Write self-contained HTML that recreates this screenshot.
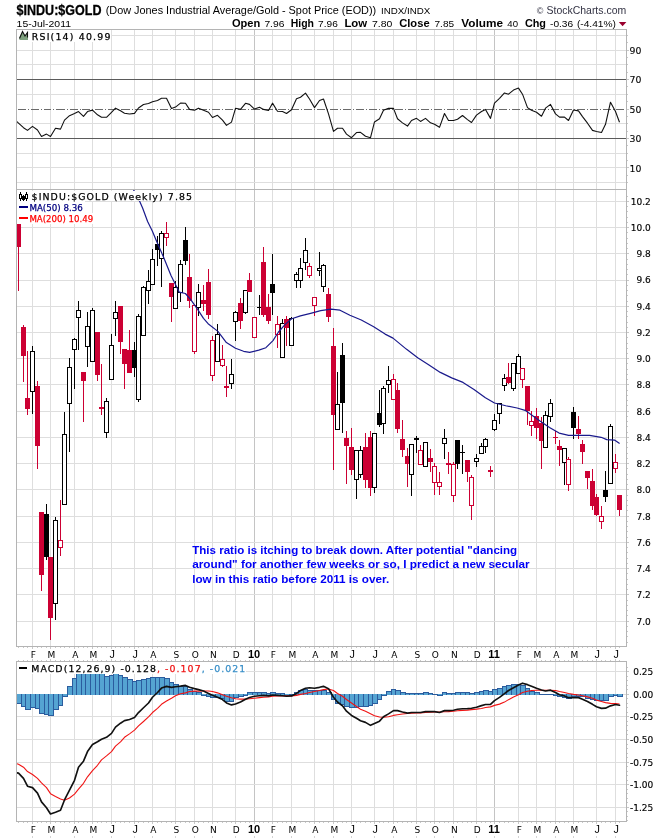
<!DOCTYPE html>
<html><head><meta charset="utf-8"><title>$INDU:$GOLD</title>
<style>html,body{margin:0;padding:0;background:#fff}svg{display:block}</style></head>
<body><svg width="670" height="838" viewBox="0 0 670 838">
<rect width="670" height="838" fill="#fff"/>
<g shape-rendering="crispEdges" fill="none">
<line x1="32.5" x2="32.5" y1="29.5" y2="189.5" stroke="#dedede"/>
<line x1="50.5" x2="50.5" y1="29.5" y2="189.5" stroke="#dedede"/>
<line x1="74.5" x2="74.5" y1="29.5" y2="189.5" stroke="#dedede"/>
<line x1="92.5" x2="92.5" y1="29.5" y2="189.5" stroke="#dedede"/>
<line x1="111.5" x2="111.5" y1="29.5" y2="189.5" stroke="#dedede"/>
<line x1="134.5" x2="134.5" y1="29.5" y2="189.5" stroke="#dedede"/>
<line x1="152.5" x2="152.5" y1="29.5" y2="189.5" stroke="#dedede"/>
<line x1="175.5" x2="175.5" y1="29.5" y2="189.5" stroke="#dedede"/>
<line x1="194.5" x2="194.5" y1="29.5" y2="189.5" stroke="#dedede"/>
<line x1="212.5" x2="212.5" y1="29.5" y2="189.5" stroke="#dedede"/>
<line x1="235.5" x2="235.5" y1="29.5" y2="189.5" stroke="#dedede"/>
<line x1="254.5" x2="254.5" y1="29.5" y2="189.5" stroke="#c4c4c4"/>
<line x1="272.5" x2="272.5" y1="29.5" y2="189.5" stroke="#dedede"/>
<line x1="291.5" x2="291.5" y1="29.5" y2="189.5" stroke="#dedede"/>
<line x1="314.5" x2="314.5" y1="29.5" y2="189.5" stroke="#dedede"/>
<line x1="333.5" x2="333.5" y1="29.5" y2="189.5" stroke="#dedede"/>
<line x1="351.5" x2="351.5" y1="29.5" y2="189.5" stroke="#dedede"/>
<line x1="374.5" x2="374.5" y1="29.5" y2="189.5" stroke="#dedede"/>
<line x1="393.5" x2="393.5" y1="29.5" y2="189.5" stroke="#dedede"/>
<line x1="416.5" x2="416.5" y1="29.5" y2="189.5" stroke="#dedede"/>
<line x1="434.5" x2="434.5" y1="29.5" y2="189.5" stroke="#dedede"/>
<line x1="453.5" x2="453.5" y1="29.5" y2="189.5" stroke="#dedede"/>
<line x1="476.5" x2="476.5" y1="29.5" y2="189.5" stroke="#dedede"/>
<line x1="494.5" x2="494.5" y1="29.5" y2="189.5" stroke="#c4c4c4"/>
<line x1="518.5" x2="518.5" y1="29.5" y2="189.5" stroke="#dedede"/>
<line x1="536.5" x2="536.5" y1="29.5" y2="189.5" stroke="#dedede"/>
<line x1="555.5" x2="555.5" y1="29.5" y2="189.5" stroke="#dedede"/>
<line x1="573.5" x2="573.5" y1="29.5" y2="189.5" stroke="#dedede"/>
<line x1="596.5" x2="596.5" y1="29.5" y2="189.5" stroke="#dedede"/>
<line x1="615.5" x2="615.5" y1="29.5" y2="189.5" stroke="#dedede"/>
<line x1="32.5" x2="32.5" y1="189.5" y2="646.5" stroke="#dedede"/>
<line x1="50.5" x2="50.5" y1="189.5" y2="646.5" stroke="#dedede"/>
<line x1="74.5" x2="74.5" y1="189.5" y2="646.5" stroke="#dedede"/>
<line x1="92.5" x2="92.5" y1="189.5" y2="646.5" stroke="#dedede"/>
<line x1="111.5" x2="111.5" y1="189.5" y2="646.5" stroke="#dedede"/>
<line x1="134.5" x2="134.5" y1="189.5" y2="646.5" stroke="#dedede"/>
<line x1="152.5" x2="152.5" y1="189.5" y2="646.5" stroke="#dedede"/>
<line x1="175.5" x2="175.5" y1="189.5" y2="646.5" stroke="#dedede"/>
<line x1="194.5" x2="194.5" y1="189.5" y2="646.5" stroke="#dedede"/>
<line x1="212.5" x2="212.5" y1="189.5" y2="646.5" stroke="#dedede"/>
<line x1="235.5" x2="235.5" y1="189.5" y2="646.5" stroke="#dedede"/>
<line x1="254.5" x2="254.5" y1="189.5" y2="646.5" stroke="#c4c4c4"/>
<line x1="272.5" x2="272.5" y1="189.5" y2="646.5" stroke="#dedede"/>
<line x1="291.5" x2="291.5" y1="189.5" y2="646.5" stroke="#dedede"/>
<line x1="314.5" x2="314.5" y1="189.5" y2="646.5" stroke="#dedede"/>
<line x1="333.5" x2="333.5" y1="189.5" y2="646.5" stroke="#dedede"/>
<line x1="351.5" x2="351.5" y1="189.5" y2="646.5" stroke="#dedede"/>
<line x1="374.5" x2="374.5" y1="189.5" y2="646.5" stroke="#dedede"/>
<line x1="393.5" x2="393.5" y1="189.5" y2="646.5" stroke="#dedede"/>
<line x1="416.5" x2="416.5" y1="189.5" y2="646.5" stroke="#dedede"/>
<line x1="434.5" x2="434.5" y1="189.5" y2="646.5" stroke="#dedede"/>
<line x1="453.5" x2="453.5" y1="189.5" y2="646.5" stroke="#dedede"/>
<line x1="476.5" x2="476.5" y1="189.5" y2="646.5" stroke="#dedede"/>
<line x1="494.5" x2="494.5" y1="189.5" y2="646.5" stroke="#c4c4c4"/>
<line x1="518.5" x2="518.5" y1="189.5" y2="646.5" stroke="#dedede"/>
<line x1="536.5" x2="536.5" y1="189.5" y2="646.5" stroke="#dedede"/>
<line x1="555.5" x2="555.5" y1="189.5" y2="646.5" stroke="#dedede"/>
<line x1="573.5" x2="573.5" y1="189.5" y2="646.5" stroke="#dedede"/>
<line x1="596.5" x2="596.5" y1="189.5" y2="646.5" stroke="#dedede"/>
<line x1="615.5" x2="615.5" y1="189.5" y2="646.5" stroke="#dedede"/>
<line x1="32.5" x2="32.5" y1="661.5" y2="821.5" stroke="#dedede"/>
<line x1="50.5" x2="50.5" y1="661.5" y2="821.5" stroke="#dedede"/>
<line x1="74.5" x2="74.5" y1="661.5" y2="821.5" stroke="#dedede"/>
<line x1="92.5" x2="92.5" y1="661.5" y2="821.5" stroke="#dedede"/>
<line x1="111.5" x2="111.5" y1="661.5" y2="821.5" stroke="#dedede"/>
<line x1="134.5" x2="134.5" y1="661.5" y2="821.5" stroke="#dedede"/>
<line x1="152.5" x2="152.5" y1="661.5" y2="821.5" stroke="#dedede"/>
<line x1="175.5" x2="175.5" y1="661.5" y2="821.5" stroke="#dedede"/>
<line x1="194.5" x2="194.5" y1="661.5" y2="821.5" stroke="#dedede"/>
<line x1="212.5" x2="212.5" y1="661.5" y2="821.5" stroke="#dedede"/>
<line x1="235.5" x2="235.5" y1="661.5" y2="821.5" stroke="#dedede"/>
<line x1="254.5" x2="254.5" y1="661.5" y2="821.5" stroke="#c4c4c4"/>
<line x1="272.5" x2="272.5" y1="661.5" y2="821.5" stroke="#dedede"/>
<line x1="291.5" x2="291.5" y1="661.5" y2="821.5" stroke="#dedede"/>
<line x1="314.5" x2="314.5" y1="661.5" y2="821.5" stroke="#dedede"/>
<line x1="333.5" x2="333.5" y1="661.5" y2="821.5" stroke="#dedede"/>
<line x1="351.5" x2="351.5" y1="661.5" y2="821.5" stroke="#dedede"/>
<line x1="374.5" x2="374.5" y1="661.5" y2="821.5" stroke="#dedede"/>
<line x1="393.5" x2="393.5" y1="661.5" y2="821.5" stroke="#dedede"/>
<line x1="416.5" x2="416.5" y1="661.5" y2="821.5" stroke="#dedede"/>
<line x1="434.5" x2="434.5" y1="661.5" y2="821.5" stroke="#dedede"/>
<line x1="453.5" x2="453.5" y1="661.5" y2="821.5" stroke="#dedede"/>
<line x1="476.5" x2="476.5" y1="661.5" y2="821.5" stroke="#dedede"/>
<line x1="494.5" x2="494.5" y1="661.5" y2="821.5" stroke="#c4c4c4"/>
<line x1="518.5" x2="518.5" y1="661.5" y2="821.5" stroke="#dedede"/>
<line x1="536.5" x2="536.5" y1="661.5" y2="821.5" stroke="#dedede"/>
<line x1="555.5" x2="555.5" y1="661.5" y2="821.5" stroke="#dedede"/>
<line x1="573.5" x2="573.5" y1="661.5" y2="821.5" stroke="#dedede"/>
<line x1="596.5" x2="596.5" y1="661.5" y2="821.5" stroke="#dedede"/>
<line x1="615.5" x2="615.5" y1="661.5" y2="821.5" stroke="#dedede"/>
<line x1="16.5" x2="626.5" y1="182.5" y2="182.5" stroke="#dedede"/>
<line x1="16.5" x2="626.5" y1="167.5" y2="167.5" stroke="#dedede"/>
<line x1="16.5" x2="626.5" y1="153.5" y2="153.5" stroke="#dedede"/>
<line x1="16.5" x2="626.5" y1="123.5" y2="123.5" stroke="#dedede"/>
<line x1="16.5" x2="626.5" y1="94.5" y2="94.5" stroke="#dedede"/>
<line x1="16.5" x2="626.5" y1="64.5" y2="64.5" stroke="#dedede"/>
<line x1="16.5" x2="626.5" y1="50.5" y2="50.5" stroke="#dedede"/>
<line x1="16.5" x2="626.5" y1="35.5" y2="35.5" stroke="#dedede"/>
<line x1="16.5" x2="626.5" y1="621.5" y2="621.5" stroke="#dedede"/>
<line x1="16.5" x2="626.5" y1="594.5" y2="594.5" stroke="#dedede"/>
<line x1="16.5" x2="626.5" y1="568.5" y2="568.5" stroke="#dedede"/>
<line x1="16.5" x2="626.5" y1="542.5" y2="542.5" stroke="#dedede"/>
<line x1="16.5" x2="626.5" y1="516.5" y2="516.5" stroke="#dedede"/>
<line x1="16.5" x2="626.5" y1="489.5" y2="489.5" stroke="#dedede"/>
<line x1="16.5" x2="626.5" y1="463.5" y2="463.5" stroke="#dedede"/>
<line x1="16.5" x2="626.5" y1="437.5" y2="437.5" stroke="#dedede"/>
<line x1="16.5" x2="626.5" y1="411.5" y2="411.5" stroke="#dedede"/>
<line x1="16.5" x2="626.5" y1="384.5" y2="384.5" stroke="#dedede"/>
<line x1="16.5" x2="626.5" y1="358.5" y2="358.5" stroke="#dedede"/>
<line x1="16.5" x2="626.5" y1="332.5" y2="332.5" stroke="#dedede"/>
<line x1="16.5" x2="626.5" y1="306.5" y2="306.5" stroke="#dedede"/>
<line x1="16.5" x2="626.5" y1="280.5" y2="280.5" stroke="#dedede"/>
<line x1="16.5" x2="626.5" y1="253.5" y2="253.5" stroke="#dedede"/>
<line x1="16.5" x2="626.5" y1="227.5" y2="227.5" stroke="#dedede"/>
<line x1="16.5" x2="626.5" y1="201.5" y2="201.5" stroke="#dedede"/>
<line x1="16.5" x2="626.5" y1="807.5" y2="807.5" stroke="#dedede"/>
<line x1="16.5" x2="626.5" y1="784.5" y2="784.5" stroke="#dedede"/>
<line x1="16.5" x2="626.5" y1="762.5" y2="762.5" stroke="#dedede"/>
<line x1="16.5" x2="626.5" y1="739.5" y2="739.5" stroke="#dedede"/>
<line x1="16.5" x2="626.5" y1="716.5" y2="716.5" stroke="#dedede"/>
<line x1="16.5" x2="626.5" y1="694.5" y2="694.5" stroke="#dedede"/>
<line x1="16.5" x2="626.5" y1="671.5" y2="671.5" stroke="#dedede"/>
</g>
<g shape-rendering="crispEdges" fill="none">
<line x1="16.5" x2="626.5" y1="79.5" y2="79.5" stroke="#5a5a5a"/>
<line x1="16.5" x2="626.5" y1="138.5" y2="138.5" stroke="#5a5a5a"/>
<line x1="16.5" x2="626.5" y1="109.5" y2="109.5" stroke="#6a6a6a" stroke-dasharray="8 2 1 2" stroke-dashoffset="-1"/>
</g>
<polyline points="17,121.63 18.5,123.2 23.5,127.68 27.5,130.36 32.5,126.42 37.5,130 41.5,136.45 46.5,134.12 50.5,136.45 55.5,128.21 60.5,129.11 64.5,120.15 69.5,115.67 74.5,113.52 78.5,111.55 83.5,116.39 87.5,111.55 92.5,110.12 97.5,114.78 101.5,117.29 106.5,117.29 111.5,112.27 115.5,108.15 120.5,110.84 124.5,113.17 129.5,114.06 134.5,113.35 138.5,107.97 143.5,104.57 148.5,103.49 152.5,101.7 157.5,100.45 161.5,98.3 166.5,98.3 171.5,108.51 175.5,107.08 180.5,103.14 185.5,103.32 189.5,109.41 194.5,110.3 198.5,108.15 203.5,110.3 208.5,112.27 212.5,117.47 217.5,115.32 222.5,120.15 226.5,125.35 231.5,122.12 235.5,108.33 240.5,109.41 245.5,103.32 249.5,104.39 254.5,109.05 259.5,107.26 263.5,109.41 268.5,110.48 272.5,103.14 277.5,111.2 282.5,111.55 286.5,113.52 291.5,109.76 296.5,98.66 300.5,97.23 305.5,93.11 309.5,99.02 314.5,107.61 319.5,100.45 323.5,99.02 328.5,113.88 333.5,131.44 337.5,128.21 342.5,128.21 346.5,134.12 351.5,137.71 356.5,132.51 360.5,132.33 365.5,136.27 370.5,137.71 374.5,121.94 379.5,118.72 383.5,110.3 388.5,108.33 393.5,108.33 397.5,118.72 402.5,122.84 407.5,126.06 411.5,120.51 416.5,118.36 420.5,121.41 425.5,118.36 430.5,122.84 434.5,124.27 439.5,127.32 444.5,113.52 448.5,120.51 453.5,120.51 457.5,119.26 462.5,115.5 467.5,119.61 471.5,122.48 476.5,115.14 481.5,111.55 485.5,109.41 490.5,118.36 494.5,103.14 499.5,98.3 504.5,92.93 508.5,94.18 513.5,90.06 518.5,88.09 522.5,94.18 527.5,107.61 531.5,110.3 536.5,112.27 541.5,116.21 545.5,108.15 550.5,104.39 555.5,113.88 559.5,117.11 564.5,117.11 568.5,120.51 573.5,109.94 578.5,110.84 582.5,116.57 587.5,123.2 592.5,130.36 596.5,131.44 601.5,132.51 605.5,124.27 610.5,102.24 615.5,111.55 619.5,122.3" fill="none" stroke="#111" stroke-width="1.1" stroke-linejoin="round"/>
<g shape-rendering="crispEdges">
<line x1="18.5" x2="18.5" y1="224" y2="291" stroke="#cc0033"/>
<rect x="16" y="224" width="5" height="23" fill="#cc0033"/>
<line x1="23.5" x2="23.5" y1="325" y2="382" stroke="#cc0033"/>
<rect x="21" y="327" width="5" height="29" fill="#cc0033"/>
<line x1="27.5" x2="27.5" y1="351" y2="415" stroke="#cc0033"/>
<rect x="25" y="398" width="5" height="11" fill="#cc0033"/>
<line x1="32.5" x2="32.5" y1="346" y2="351" stroke="#000"/>
<line x1="32.5" x2="32.5" y1="392" y2="414" stroke="#000"/>
<rect x="30.5" y="351.5" width="4" height="40" fill="#fff" stroke="#000"/>
<line x1="37.5" x2="37.5" y1="381" y2="469" stroke="#cc0033"/>
<rect x="35" y="386" width="5" height="60" fill="#cc0033"/>
<line x1="41.5" x2="41.5" y1="512" y2="591" stroke="#cc0033"/>
<rect x="39" y="512" width="5" height="63" fill="#cc0033"/>
<line x1="46.5" x2="46.5" y1="504" y2="560" stroke="#000"/>
<rect x="44" y="514" width="5" height="43" fill="#000"/>
<line x1="50.5" x2="50.5" y1="557" y2="640" stroke="#cc0033"/>
<rect x="48" y="557" width="5" height="61" fill="#cc0033"/>
<line x1="55.5" x2="55.5" y1="517" y2="520" stroke="#000"/>
<line x1="55.5" x2="55.5" y1="604" y2="620" stroke="#000"/>
<rect x="53.5" y="520.5" width="4" height="83" fill="#fff" stroke="#000"/>
<line x1="60.5" x2="60.5" y1="500" y2="540" stroke="#cc0033"/>
<line x1="60.5" x2="60.5" y1="548" y2="556" stroke="#cc0033"/>
<rect x="58.5" y="540.5" width="4" height="7" fill="#fff" stroke="#cc0033"/>
<line x1="64.5" x2="64.5" y1="412" y2="434" stroke="#000"/>
<rect x="62.5" y="434.5" width="4" height="70" fill="#fff" stroke="#000"/>
<line x1="69.5" x2="69.5" y1="358" y2="367" stroke="#000"/>
<line x1="69.5" x2="69.5" y1="404" y2="452" stroke="#000"/>
<rect x="67.5" y="367.5" width="4" height="36" fill="#fff" stroke="#000"/>
<line x1="74.5" x2="74.5" y1="338" y2="339" stroke="#000"/>
<line x1="74.5" x2="74.5" y1="350" y2="389" stroke="#000"/>
<rect x="72.5" y="339.5" width="4" height="10" fill="#fff" stroke="#000"/>
<line x1="78.5" x2="78.5" y1="301" y2="310" stroke="#000"/>
<line x1="78.5" x2="78.5" y1="318" y2="350" stroke="#000"/>
<rect x="76.5" y="310.5" width="4" height="7" fill="#fff" stroke="#000"/>
<line x1="83.5" x2="83.5" y1="372" y2="422" stroke="#cc0033"/>
<rect x="81" y="372" width="5" height="9" fill="#cc0033"/>
<line x1="87.5" x2="87.5" y1="312" y2="326" stroke="#000"/>
<line x1="87.5" x2="87.5" y1="347" y2="367" stroke="#000"/>
<rect x="85.5" y="326.5" width="4" height="20" fill="#fff" stroke="#000"/>
<line x1="92.5" x2="92.5" y1="308" y2="310" stroke="#000"/>
<rect x="90.5" y="310.5" width="4" height="51" fill="#fff" stroke="#000"/>
<line x1="97.5" x2="97.5" y1="332" y2="381" stroke="#cc0033"/>
<rect x="95" y="332" width="5" height="43" fill="#cc0033"/>
<line x1="101.5" x2="101.5" y1="364" y2="415" stroke="#cc0033"/>
<rect x="99" y="407" width="5" height="2" fill="#cc0033"/>
<line x1="106.5" x2="106.5" y1="398" y2="401" stroke="#000"/>
<line x1="106.5" x2="106.5" y1="433" y2="438" stroke="#000"/>
<rect x="104.5" y="401.5" width="4" height="31" fill="#fff" stroke="#000"/>
<line x1="111.5" x2="111.5" y1="334" y2="345" stroke="#000"/>
<rect x="109.5" y="345.5" width="4" height="34" fill="#fff" stroke="#000"/>
<line x1="115.5" x2="115.5" y1="301" y2="312" stroke="#000"/>
<line x1="115.5" x2="115.5" y1="319" y2="336" stroke="#000"/>
<rect x="113.5" y="312.5" width="4" height="6" fill="#fff" stroke="#000"/>
<line x1="120.5" x2="120.5" y1="306" y2="354" stroke="#cc0033"/>
<rect x="118" y="306" width="5" height="36" fill="#cc0033"/>
<line x1="124.5" x2="124.5" y1="349" y2="389" stroke="#cc0033"/>
<rect x="122" y="349" width="5" height="15" fill="#cc0033"/>
<line x1="129.5" x2="129.5" y1="330" y2="373" stroke="#cc0033"/>
<rect x="127" y="350" width="5" height="23" fill="#cc0033"/>
<line x1="134.5" x2="134.5" y1="342" y2="377" stroke="#000"/>
<rect x="132" y="350" width="5" height="18" fill="#000"/>
<line x1="138.5" x2="138.5" y1="314" y2="316" stroke="#000"/>
<line x1="138.5" x2="138.5" y1="400" y2="402" stroke="#000"/>
<rect x="136.5" y="316.5" width="4" height="83" fill="#fff" stroke="#000"/>
<line x1="143.5" x2="143.5" y1="286" y2="287" stroke="#000"/>
<rect x="141.5" y="287.5" width="4" height="48" fill="#fff" stroke="#000"/>
<line x1="148.5" x2="148.5" y1="270" y2="281" stroke="#000"/>
<line x1="148.5" x2="148.5" y1="291" y2="304" stroke="#000"/>
<rect x="146.5" y="281.5" width="4" height="9" fill="#fff" stroke="#000"/>
<line x1="152.5" x2="152.5" y1="249" y2="259" stroke="#000"/>
<rect x="150.5" y="259.5" width="4" height="25" fill="#fff" stroke="#000"/>
<line x1="157.5" x2="157.5" y1="236" y2="266" stroke="#000"/>
<rect x="155" y="244" width="5" height="6" fill="#000"/>
<line x1="161.5" x2="161.5" y1="231" y2="233" stroke="#000"/>
<line x1="161.5" x2="161.5" y1="259" y2="287" stroke="#000"/>
<rect x="159.5" y="233.5" width="4" height="25" fill="#fff" stroke="#000"/>
<line x1="166.5" x2="166.5" y1="222" y2="233" stroke="#cc0033"/>
<line x1="166.5" x2="166.5" y1="238" y2="246" stroke="#cc0033"/>
<rect x="164.5" y="233.5" width="4" height="4" fill="#fff" stroke="#cc0033"/>
<line x1="171.5" x2="171.5" y1="283" y2="322" stroke="#cc0033"/>
<rect x="169" y="283" width="5" height="14" fill="#cc0033"/>
<line x1="175.5" x2="175.5" y1="281" y2="287" stroke="#000"/>
<rect x="173.5" y="287.5" width="4" height="21" fill="#fff" stroke="#000"/>
<line x1="180.5" x2="180.5" y1="260" y2="264" stroke="#000"/>
<line x1="180.5" x2="180.5" y1="293" y2="302" stroke="#000"/>
<rect x="178.5" y="264.5" width="4" height="28" fill="#fff" stroke="#000"/>
<line x1="185.5" x2="185.5" y1="227" y2="265" stroke="#000"/>
<rect x="183" y="240" width="5" height="21" fill="#000"/>
<line x1="189.5" x2="189.5" y1="254" y2="308" stroke="#cc0033"/>
<rect x="187" y="277" width="5" height="24" fill="#cc0033"/>
<line x1="194.5" x2="194.5" y1="352" y2="354" stroke="#cc0033"/>
<rect x="192.5" y="305.5" width="4" height="46" fill="#fff" stroke="#cc0033"/>
<line x1="198.5" x2="198.5" y1="284" y2="292" stroke="#000"/>
<line x1="198.5" x2="198.5" y1="308" y2="316" stroke="#000"/>
<rect x="196.5" y="292.5" width="4" height="15" fill="#fff" stroke="#000"/>
<line x1="203.5" x2="203.5" y1="285" y2="311" stroke="#cc0033"/>
<rect x="201" y="300" width="5" height="4" fill="#cc0033"/>
<line x1="208.5" x2="208.5" y1="269" y2="319" stroke="#cc0033"/>
<rect x="206" y="282" width="5" height="33" fill="#cc0033"/>
<line x1="212.5" x2="212.5" y1="336" y2="340" stroke="#cc0033"/>
<line x1="212.5" x2="212.5" y1="376" y2="381" stroke="#cc0033"/>
<rect x="210.5" y="340.5" width="4" height="35" fill="#fff" stroke="#cc0033"/>
<line x1="217.5" x2="217.5" y1="324" y2="334" stroke="#000"/>
<rect x="215.5" y="334.5" width="4" height="27" fill="#fff" stroke="#000"/>
<line x1="222.5" x2="222.5" y1="345" y2="359" stroke="#cc0033"/>
<line x1="222.5" x2="222.5" y1="366" y2="367" stroke="#cc0033"/>
<rect x="220.5" y="359.5" width="4" height="6" fill="#fff" stroke="#cc0033"/>
<line x1="226.5" x2="226.5" y1="366" y2="397" stroke="#cc0033"/>
<rect x="224" y="386" width="5" height="2" fill="#cc0033"/>
<line x1="231.5" x2="231.5" y1="359" y2="374" stroke="#000"/>
<line x1="231.5" x2="231.5" y1="384" y2="389" stroke="#000"/>
<rect x="229.5" y="374.5" width="4" height="9" fill="#fff" stroke="#000"/>
<line x1="235.5" x2="235.5" y1="311" y2="312" stroke="#000"/>
<line x1="235.5" x2="235.5" y1="322" y2="341" stroke="#000"/>
<rect x="233.5" y="312.5" width="4" height="9" fill="#fff" stroke="#000"/>
<line x1="240.5" x2="240.5" y1="298" y2="329" stroke="#cc0033"/>
<rect x="238" y="303" width="5" height="18" fill="#cc0033"/>
<line x1="245.5" x2="245.5" y1="313" y2="314" stroke="#000"/>
<rect x="243.5" y="290.5" width="4" height="22" fill="#fff" stroke="#000"/>
<line x1="249.5" x2="249.5" y1="273" y2="292" stroke="#cc0033"/>
<rect x="247" y="280" width="5" height="12" fill="#cc0033"/>
<rect x="252.5" y="317.5" width="4" height="20" fill="#fff" stroke="#cc0033"/>
<line x1="259.5" x2="259.5" y1="295" y2="315" stroke="#000"/>
<rect x="257" y="307" width="5" height="1" fill="#000"/>
<line x1="263.5" x2="263.5" y1="247" y2="317" stroke="#cc0033"/>
<rect x="261" y="262" width="5" height="53" fill="#cc0033"/>
<line x1="268.5" x2="268.5" y1="294" y2="324" stroke="#cc0033"/>
<rect x="266" y="307" width="5" height="14" fill="#cc0033"/>
<line x1="272.5" x2="272.5" y1="254" y2="315" stroke="#000"/>
<rect x="270" y="284" width="5" height="9" fill="#000"/>
<line x1="277.5" x2="277.5" y1="316" y2="324" stroke="#cc0033"/>
<line x1="277.5" x2="277.5" y1="335" y2="348" stroke="#cc0033"/>
<rect x="275.5" y="324.5" width="4" height="10" fill="#fff" stroke="#cc0033"/>
<line x1="282.5" x2="282.5" y1="319" y2="323" stroke="#000"/>
<rect x="280.5" y="323.5" width="4" height="34" fill="#fff" stroke="#000"/>
<line x1="286.5" x2="286.5" y1="316" y2="346" stroke="#cc0033"/>
<rect x="284" y="319" width="5" height="9" fill="#cc0033"/>
<line x1="291.5" x2="291.5" y1="317" y2="318" stroke="#000"/>
<rect x="289.5" y="318.5" width="4" height="27" fill="#fff" stroke="#000"/>
<line x1="296.5" x2="296.5" y1="272" y2="274" stroke="#000"/>
<line x1="296.5" x2="296.5" y1="281" y2="288" stroke="#000"/>
<rect x="294.5" y="274.5" width="4" height="6" fill="#fff" stroke="#000"/>
<line x1="300.5" x2="300.5" y1="258" y2="268" stroke="#000"/>
<line x1="300.5" x2="300.5" y1="281" y2="288" stroke="#000"/>
<rect x="298.5" y="268.5" width="4" height="12" fill="#fff" stroke="#000"/>
<line x1="305.5" x2="305.5" y1="238" y2="250" stroke="#000"/>
<line x1="305.5" x2="305.5" y1="263" y2="270" stroke="#000"/>
<rect x="303.5" y="250.5" width="4" height="12" fill="#fff" stroke="#000"/>
<line x1="309.5" x2="309.5" y1="263" y2="266" stroke="#cc0033"/>
<line x1="309.5" x2="309.5" y1="276" y2="278" stroke="#cc0033"/>
<rect x="307.5" y="266.5" width="4" height="9" fill="#fff" stroke="#cc0033"/>
<line x1="314.5" x2="314.5" y1="306" y2="316" stroke="#cc0033"/>
<rect x="312.5" y="297.5" width="4" height="8" fill="#fff" stroke="#cc0033"/>
<line x1="319.5" x2="319.5" y1="252" y2="268" stroke="#000"/>
<line x1="319.5" x2="319.5" y1="271" y2="276" stroke="#000"/>
<rect x="317.5" y="268.5" width="4" height="2" fill="#fff" stroke="#000"/>
<line x1="323.5" x2="323.5" y1="264" y2="265" stroke="#000"/>
<line x1="323.5" x2="323.5" y1="287" y2="292" stroke="#000"/>
<rect x="321.5" y="265.5" width="4" height="21" fill="#fff" stroke="#000"/>
<line x1="328.5" x2="328.5" y1="288" y2="322" stroke="#cc0033"/>
<rect x="326" y="294" width="5" height="23" fill="#cc0033"/>
<line x1="333.5" x2="333.5" y1="328" y2="470" stroke="#cc0033"/>
<rect x="331" y="346" width="5" height="69" fill="#cc0033"/>
<line x1="337.5" x2="337.5" y1="372" y2="404" stroke="#000"/>
<rect x="335.5" y="404.5" width="4" height="25" fill="#fff" stroke="#000"/>
<line x1="342.5" x2="342.5" y1="343" y2="433" stroke="#000"/>
<rect x="340" y="355" width="5" height="48" fill="#000"/>
<line x1="346.5" x2="346.5" y1="431" y2="484" stroke="#cc0033"/>
<rect x="344" y="438" width="5" height="8" fill="#cc0033"/>
<line x1="351.5" x2="351.5" y1="428" y2="475" stroke="#cc0033"/>
<rect x="349" y="447" width="5" height="23" fill="#cc0033"/>
<line x1="356.5" x2="356.5" y1="480" y2="499" stroke="#000"/>
<rect x="354.5" y="450.5" width="4" height="29" fill="#fff" stroke="#000"/>
<line x1="360.5" x2="360.5" y1="446" y2="450" stroke="#000"/>
<line x1="360.5" x2="360.5" y1="475" y2="478" stroke="#000"/>
<rect x="358.5" y="450.5" width="4" height="24" fill="#fff" stroke="#000"/>
<line x1="365.5" x2="365.5" y1="433" y2="488" stroke="#cc0033"/>
<rect x="363" y="447" width="5" height="33" fill="#cc0033"/>
<line x1="370.5" x2="370.5" y1="431" y2="496" stroke="#cc0033"/>
<rect x="368" y="437" width="5" height="51" fill="#cc0033"/>
<line x1="374.5" x2="374.5" y1="488" y2="493" stroke="#000"/>
<rect x="372.5" y="433.5" width="4" height="54" fill="#fff" stroke="#000"/>
<line x1="379.5" x2="379.5" y1="390" y2="427" stroke="#000"/>
<rect x="377" y="413" width="5" height="12" fill="#000"/>
<line x1="383.5" x2="383.5" y1="386" y2="388" stroke="#000"/>
<line x1="383.5" x2="383.5" y1="424" y2="434" stroke="#000"/>
<rect x="381.5" y="388.5" width="4" height="35" fill="#fff" stroke="#000"/>
<line x1="388.5" x2="388.5" y1="366" y2="380" stroke="#000"/>
<line x1="388.5" x2="388.5" y1="385" y2="393" stroke="#000"/>
<rect x="386.5" y="380.5" width="4" height="4" fill="#fff" stroke="#000"/>
<line x1="393.5" x2="393.5" y1="374" y2="379" stroke="#cc0033"/>
<rect x="391.5" y="379.5" width="4" height="20" fill="#fff" stroke="#cc0033"/>
<line x1="397.5" x2="397.5" y1="383" y2="433" stroke="#cc0033"/>
<rect x="395" y="390" width="5" height="39" fill="#cc0033"/>
<line x1="402.5" x2="402.5" y1="420" y2="457" stroke="#cc0033"/>
<rect x="400" y="439" width="5" height="11" fill="#cc0033"/>
<line x1="407.5" x2="407.5" y1="448" y2="487" stroke="#cc0033"/>
<rect x="405" y="456" width="5" height="8" fill="#cc0033"/>
<line x1="411.5" x2="411.5" y1="475" y2="496" stroke="#000"/>
<rect x="409.5" y="444.5" width="4" height="30" fill="#fff" stroke="#000"/>
<line x1="416.5" x2="416.5" y1="436" y2="438" stroke="#000"/>
<line x1="416.5" x2="416.5" y1="440" y2="453" stroke="#000"/>
<rect x="414.5" y="438.5" width="4" height="1" fill="#fff" stroke="#000"/>
<line x1="420.5" x2="420.5" y1="445" y2="450" stroke="#cc0033"/>
<rect x="418.5" y="450.5" width="4" height="14" fill="#fff" stroke="#cc0033"/>
<rect x="423.5" y="442.5" width="4" height="24" fill="#fff" stroke="#000"/>
<line x1="430.5" x2="430.5" y1="449" y2="472" stroke="#cc0033"/>
<rect x="428" y="458" width="5" height="4" fill="#cc0033"/>
<line x1="434.5" x2="434.5" y1="463" y2="466" stroke="#cc0033"/>
<line x1="434.5" x2="434.5" y1="483" y2="495" stroke="#cc0033"/>
<rect x="432.5" y="466.5" width="4" height="16" fill="#fff" stroke="#cc0033"/>
<line x1="439.5" x2="439.5" y1="472" y2="482" stroke="#cc0033"/>
<line x1="439.5" x2="439.5" y1="487" y2="495" stroke="#cc0033"/>
<rect x="437.5" y="482.5" width="4" height="4" fill="#fff" stroke="#cc0033"/>
<line x1="444.5" x2="444.5" y1="429" y2="438" stroke="#000"/>
<line x1="444.5" x2="444.5" y1="444" y2="459" stroke="#000"/>
<rect x="442.5" y="438.5" width="4" height="5" fill="#fff" stroke="#000"/>
<line x1="448.5" x2="448.5" y1="452" y2="474" stroke="#cc0033"/>
<rect x="446" y="463" width="5" height="2" fill="#cc0033"/>
<line x1="453.5" x2="453.5" y1="462" y2="464" stroke="#cc0033"/>
<line x1="453.5" x2="453.5" y1="496" y2="502" stroke="#cc0033"/>
<rect x="451.5" y="464.5" width="4" height="31" fill="#fff" stroke="#cc0033"/>
<line x1="457.5" x2="457.5" y1="440" y2="469" stroke="#000"/>
<rect x="455" y="440" width="5" height="24" fill="#000"/>
<line x1="462.5" x2="462.5" y1="445" y2="474" stroke="#000"/>
<rect x="460" y="452" width="5" height="1" fill="#000"/>
<line x1="467.5" x2="467.5" y1="460" y2="482" stroke="#cc0033"/>
<rect x="465" y="460" width="5" height="12" fill="#cc0033"/>
<line x1="471.5" x2="471.5" y1="475" y2="477" stroke="#cc0033"/>
<line x1="471.5" x2="471.5" y1="506" y2="520" stroke="#cc0033"/>
<rect x="469.5" y="477.5" width="4" height="28" fill="#fff" stroke="#cc0033"/>
<line x1="476.5" x2="476.5" y1="454" y2="458" stroke="#000"/>
<line x1="476.5" x2="476.5" y1="462" y2="467" stroke="#000"/>
<rect x="474.5" y="458.5" width="4" height="3" fill="#fff" stroke="#000"/>
<line x1="481.5" x2="481.5" y1="443" y2="446" stroke="#000"/>
<rect x="479.5" y="446.5" width="4" height="7" fill="#fff" stroke="#000"/>
<line x1="485.5" x2="485.5" y1="438" y2="439" stroke="#000"/>
<line x1="485.5" x2="485.5" y1="447" y2="453" stroke="#000"/>
<rect x="483.5" y="439.5" width="4" height="7" fill="#fff" stroke="#000"/>
<line x1="490.5" x2="490.5" y1="466" y2="477" stroke="#cc0033"/>
<rect x="488" y="470" width="5" height="2" fill="#cc0033"/>
<line x1="494.5" x2="494.5" y1="414" y2="420" stroke="#000"/>
<line x1="494.5" x2="494.5" y1="430" y2="431" stroke="#000"/>
<rect x="492.5" y="420.5" width="4" height="9" fill="#fff" stroke="#000"/>
<line x1="499.5" x2="499.5" y1="414" y2="424" stroke="#000"/>
<rect x="497.5" y="403.5" width="4" height="10" fill="#fff" stroke="#000"/>
<line x1="504.5" x2="504.5" y1="374" y2="378" stroke="#000"/>
<line x1="504.5" x2="504.5" y1="386" y2="391" stroke="#000"/>
<rect x="502.5" y="378.5" width="4" height="7" fill="#fff" stroke="#000"/>
<line x1="508.5" x2="508.5" y1="363" y2="384" stroke="#cc0033"/>
<rect x="506" y="377" width="5" height="6" fill="#cc0033"/>
<line x1="513.5" x2="513.5" y1="389" y2="391" stroke="#000"/>
<rect x="511.5" y="363.5" width="4" height="25" fill="#fff" stroke="#000"/>
<line x1="518.5" x2="518.5" y1="354" y2="356" stroke="#000"/>
<rect x="516.5" y="356.5" width="4" height="17" fill="#fff" stroke="#000"/>
<line x1="522.5" x2="522.5" y1="380" y2="388" stroke="#cc0033"/>
<rect x="520.5" y="368.5" width="4" height="11" fill="#fff" stroke="#cc0033"/>
<line x1="527.5" x2="527.5" y1="386" y2="425" stroke="#cc0033"/>
<rect x="525" y="386" width="5" height="25" fill="#cc0033"/>
<line x1="531.5" x2="531.5" y1="411" y2="421" stroke="#cc0033"/>
<line x1="531.5" x2="531.5" y1="426" y2="436" stroke="#cc0033"/>
<rect x="529.5" y="421.5" width="4" height="4" fill="#fff" stroke="#cc0033"/>
<line x1="536.5" x2="536.5" y1="408" y2="439" stroke="#cc0033"/>
<rect x="534" y="416" width="5" height="12" fill="#cc0033"/>
<line x1="541.5" x2="541.5" y1="417" y2="469" stroke="#cc0033"/>
<rect x="539" y="423" width="5" height="18" fill="#cc0033"/>
<line x1="545.5" x2="545.5" y1="411" y2="415" stroke="#000"/>
<rect x="543.5" y="415.5" width="4" height="32" fill="#fff" stroke="#000"/>
<line x1="550.5" x2="550.5" y1="399" y2="403" stroke="#000"/>
<line x1="550.5" x2="550.5" y1="417" y2="422" stroke="#000"/>
<rect x="548.5" y="403.5" width="4" height="13" fill="#fff" stroke="#000"/>
<line x1="555.5" x2="555.5" y1="431" y2="444" stroke="#cc0033"/>
<rect x="553" y="437" width="5" height="1" fill="#cc0033"/>
<line x1="559.5" x2="559.5" y1="440" y2="466" stroke="#cc0033"/>
<rect x="557" y="446" width="5" height="4" fill="#cc0033"/>
<line x1="564.5" x2="564.5" y1="463" y2="485" stroke="#000"/>
<rect x="562.5" y="448.5" width="4" height="14" fill="#fff" stroke="#000"/>
<line x1="568.5" x2="568.5" y1="457" y2="459" stroke="#cc0033"/>
<line x1="568.5" x2="568.5" y1="485" y2="491" stroke="#cc0033"/>
<rect x="566.5" y="459.5" width="4" height="25" fill="#fff" stroke="#cc0033"/>
<line x1="573.5" x2="573.5" y1="407" y2="439" stroke="#000"/>
<rect x="571" y="412" width="5" height="16" fill="#000"/>
<line x1="578.5" x2="578.5" y1="416" y2="439" stroke="#cc0033"/>
<rect x="576" y="429" width="5" height="5" fill="#cc0033"/>
<line x1="582.5" x2="582.5" y1="440" y2="464" stroke="#cc0033"/>
<rect x="580" y="444" width="5" height="8" fill="#cc0033"/>
<line x1="587.5" x2="587.5" y1="471" y2="489" stroke="#cc0033"/>
<rect x="585" y="471" width="5" height="7" fill="#cc0033"/>
<line x1="592.5" x2="592.5" y1="469" y2="510" stroke="#cc0033"/>
<rect x="590" y="481" width="5" height="25" fill="#cc0033"/>
<line x1="596.5" x2="596.5" y1="494" y2="516" stroke="#cc0033"/>
<rect x="594" y="497" width="5" height="18" fill="#cc0033"/>
<line x1="601.5" x2="601.5" y1="506" y2="516" stroke="#cc0033"/>
<line x1="601.5" x2="601.5" y1="522" y2="529" stroke="#cc0033"/>
<rect x="599.5" y="516.5" width="4" height="5" fill="#fff" stroke="#cc0033"/>
<line x1="605.5" x2="605.5" y1="471" y2="502" stroke="#000"/>
<rect x="603" y="490" width="5" height="7" fill="#000"/>
<line x1="610.5" x2="610.5" y1="424" y2="426" stroke="#000"/>
<rect x="608.5" y="426.5" width="4" height="57" fill="#fff" stroke="#000"/>
<line x1="615.5" x2="615.5" y1="454" y2="462" stroke="#cc0033"/>
<line x1="615.5" x2="615.5" y1="469" y2="473" stroke="#cc0033"/>
<rect x="613.5" y="462.5" width="4" height="6" fill="#fff" stroke="#cc0033"/>
<line x1="619.5" x2="619.5" y1="495" y2="516" stroke="#cc0033"/>
<rect x="617" y="495" width="5" height="15" fill="#cc0033"/>
</g>
<polyline points="133.2,189.3 138,197.5 142.6,208 147.6,221.5 152.3,231 156.7,241.4 164,258.2 171,275.4 179.3,292.2 185.4,293.5 191.1,300.2 197.8,309.7 203.5,318.3 208.1,323.7 217.9,331.4 226.4,342.6 235.5,348.3 243.6,351.3 249.7,352.3 258.8,350.1 265.9,347.7 273,340.6 278.1,332.5 285.2,324.4 291.7,318.7 300.4,315.9 310.6,313.3 320.7,310.6 330.9,309.2 340,310.2 349.9,315.3 361.3,320 373.7,326.8 385.1,334.1 393,338.1 406.3,349.1 417.7,357.7 429,364.9 440.3,372.4 451.7,377.9 463,382.4 474,389.4 485.4,397.8 494.5,403 505.8,405.75 517.1,408 525.1,410.3 533,416 540,421 549.5,427.4 559.1,433.1 568.6,435.4 578.2,435.4 589.6,435.4 601.1,437.3 606.8,439.6 614.5,440.1 619.6,443.6" fill="none" stroke="#1a1a8c" stroke-width="1.2" stroke-linejoin="round"/>
<g shape-rendering="crispEdges" fill="none">
<rect x="16" y="694.0" width="6" height="10" fill="#55a4d2"/>
<path d="M16.5 694.0V703.5H21.5V694.0" stroke="#2b5c9e"/>
<rect x="21" y="694.0" width="5" height="13" fill="#55a4d2"/>
<path d="M21.5 694.0V706.5H25.5V694.0" stroke="#2b5c9e"/>
<rect x="25" y="694.0" width="6" height="16" fill="#55a4d2"/>
<path d="M25.5 694.0V709.5H30.5V694.0" stroke="#2b5c9e"/>
<rect x="30" y="694.0" width="6" height="14" fill="#55a4d2"/>
<path d="M30.5 694.0V707.5H35.5V694.0" stroke="#2b5c9e"/>
<rect x="35" y="694.0" width="5" height="15" fill="#55a4d2"/>
<path d="M35.5 694.0V708.5H39.5V694.0" stroke="#2b5c9e"/>
<rect x="39" y="694.0" width="6" height="20" fill="#55a4d2"/>
<path d="M39.5 694.0V713.5H44.5V694.0" stroke="#2b5c9e"/>
<rect x="44" y="694.0" width="5" height="21" fill="#55a4d2"/>
<path d="M44.5 694.0V714.5H48.5V694.0" stroke="#2b5c9e"/>
<rect x="48" y="694.0" width="6" height="22" fill="#55a4d2"/>
<path d="M48.5 694.0V715.5H53.5V694.0" stroke="#2b5c9e"/>
<rect x="53" y="694.0" width="6" height="16" fill="#55a4d2"/>
<path d="M53.5 694.0V709.5H58.5V694.0" stroke="#2b5c9e"/>
<rect x="58" y="694.0" width="5" height="12" fill="#55a4d2"/>
<path d="M58.5 694.0V705.5H62.5V694.0" stroke="#2b5c9e"/>
<rect x="62" y="694.0" width="6" height="3" fill="#55a4d2"/>
<path d="M62.5 694.0V696.5H67.5V694.0" stroke="#2b5c9e"/>
<rect x="67" y="686.0" width="6" height="9" fill="#55a4d2"/>
<path d="M67.5 695.0V686.5H72.5V695.0" stroke="#2b5c9e"/>
<rect x="72" y="678.0" width="5" height="17" fill="#55a4d2"/>
<path d="M72.5 695.0V678.5H76.5V695.0" stroke="#2b5c9e"/>
<rect x="76" y="674.0" width="6" height="21" fill="#55a4d2"/>
<path d="M76.5 695.0V674.0M81.5 674.0V695.0" stroke="#2b5c9e"/>
<rect x="81" y="674.0" width="5" height="21" fill="#55a4d2"/>
<path d="M81.5 695.0V674.0M85.5 674.0V695.0" stroke="#2b5c9e"/>
<rect x="85" y="674.0" width="6" height="21" fill="#55a4d2"/>
<path d="M85.5 695.0V674.0M90.5 674.0V695.0" stroke="#2b5c9e"/>
<rect x="90" y="674.0" width="6" height="21" fill="#55a4d2"/>
<path d="M90.5 695.0V674.0M95.5 674.0V695.0" stroke="#2b5c9e"/>
<rect x="95" y="674.0" width="5" height="21" fill="#55a4d2"/>
<path d="M95.5 695.0V674.0M99.5 674.0V695.0" stroke="#2b5c9e"/>
<rect x="99" y="674.0" width="6" height="21" fill="#55a4d2"/>
<path d="M99.5 695.0V674.0M104.5 674.0V695.0" stroke="#2b5c9e"/>
<rect x="104" y="676.0" width="6" height="19" fill="#55a4d2"/>
<path d="M104.5 695.0V676.5H109.5V695.0" stroke="#2b5c9e"/>
<rect x="109" y="675.0" width="5" height="20" fill="#55a4d2"/>
<path d="M109.5 695.0V675.5H113.5V695.0" stroke="#2b5c9e"/>
<rect x="113" y="674.0" width="6" height="21" fill="#55a4d2"/>
<path d="M113.5 695.0V674.0M118.5 674.0V695.0" stroke="#2b5c9e"/>
<rect x="118" y="675.0" width="5" height="20" fill="#55a4d2"/>
<path d="M118.5 695.0V675.5H122.5V695.0" stroke="#2b5c9e"/>
<rect x="122" y="677.0" width="6" height="18" fill="#55a4d2"/>
<path d="M122.5 695.0V677.5H127.5V695.0" stroke="#2b5c9e"/>
<rect x="127" y="679.0" width="6" height="16" fill="#55a4d2"/>
<path d="M127.5 695.0V679.5H132.5V695.0" stroke="#2b5c9e"/>
<rect x="132" y="681.0" width="5" height="14" fill="#55a4d2"/>
<path d="M132.5 695.0V681.5H136.5V695.0" stroke="#2b5c9e"/>
<rect x="136" y="680.0" width="6" height="15" fill="#55a4d2"/>
<path d="M136.5 695.0V680.5H141.5V695.0" stroke="#2b5c9e"/>
<rect x="141" y="679.0" width="6" height="16" fill="#55a4d2"/>
<path d="M141.5 695.0V679.5H146.5V695.0" stroke="#2b5c9e"/>
<rect x="146" y="678.0" width="5" height="17" fill="#55a4d2"/>
<path d="M146.5 695.0V678.5H150.5V695.0" stroke="#2b5c9e"/>
<rect x="150" y="677.0" width="6" height="18" fill="#55a4d2"/>
<path d="M150.5 695.0V677.5H155.5V695.0" stroke="#2b5c9e"/>
<rect x="155" y="677.0" width="5" height="18" fill="#55a4d2"/>
<path d="M155.5 695.0V677.5H159.5V695.0" stroke="#2b5c9e"/>
<rect x="159" y="677.0" width="6" height="18" fill="#55a4d2"/>
<path d="M159.5 695.0V677.5H164.5V695.0" stroke="#2b5c9e"/>
<rect x="164" y="678.0" width="6" height="17" fill="#55a4d2"/>
<path d="M164.5 695.0V678.5H169.5V695.0" stroke="#2b5c9e"/>
<rect x="169" y="682.0" width="5" height="13" fill="#55a4d2"/>
<path d="M169.5 695.0V682.5H173.5V695.0" stroke="#2b5c9e"/>
<rect x="173" y="684.0" width="6" height="11" fill="#55a4d2"/>
<path d="M173.5 695.0V684.5H178.5V695.0" stroke="#2b5c9e"/>
<rect x="178" y="686.0" width="6" height="9" fill="#55a4d2"/>
<path d="M178.5 695.0V686.5H183.5V695.0" stroke="#2b5c9e"/>
<rect x="183" y="686.0" width="5" height="9" fill="#55a4d2"/>
<path d="M183.5 695.0V686.5H187.5V695.0" stroke="#2b5c9e"/>
<rect x="187" y="689.0" width="6" height="6" fill="#55a4d2"/>
<path d="M187.5 695.0V689.5H192.5V695.0" stroke="#2b5c9e"/>
<rect x="192" y="691.0" width="5" height="4" fill="#55a4d2"/>
<path d="M192.5 695.0V691.5H196.5V695.0" stroke="#2b5c9e"/>
<rect x="196" y="692.0" width="6" height="3" fill="#55a4d2"/>
<path d="M196.5 695.0V692.5H201.5V695.0" stroke="#2b5c9e"/>
<rect x="201" y="694.0" width="6" height="2" fill="#55a4d2"/>
<path d="M201.5 694.0V695.5H206.5V694.0" stroke="#2b5c9e"/>
<rect x="206" y="694.0" width="5" height="3" fill="#55a4d2"/>
<path d="M206.5 694.0V696.5H210.5V694.0" stroke="#2b5c9e"/>
<rect x="210" y="694.0" width="6" height="4" fill="#55a4d2"/>
<path d="M210.5 694.0V697.5H215.5V694.0" stroke="#2b5c9e"/>
<rect x="215" y="694.0" width="6" height="4" fill="#55a4d2"/>
<path d="M215.5 694.0V697.5H220.5V694.0" stroke="#2b5c9e"/>
<rect x="220" y="694.0" width="5" height="5" fill="#55a4d2"/>
<path d="M220.5 694.0V698.5H224.5V694.0" stroke="#2b5c9e"/>
<rect x="224" y="694.0" width="6" height="8" fill="#55a4d2"/>
<path d="M224.5 694.0V701.5H229.5V694.0" stroke="#2b5c9e"/>
<rect x="229" y="694.0" width="5" height="8" fill="#55a4d2"/>
<path d="M229.5 694.0V701.5H233.5V694.0" stroke="#2b5c9e"/>
<rect x="233" y="694.0" width="6" height="4" fill="#55a4d2"/>
<path d="M233.5 694.0V697.5H238.5V694.0" stroke="#2b5c9e"/>
<rect x="238" y="694.0" width="6" height="3" fill="#55a4d2"/>
<path d="M238.5 694.0V696.5H243.5V694.0" stroke="#2b5c9e"/>
<rect x="243" y="694.0" width="5" height="2" fill="#55a4d2"/>
<path d="M243.5 694.0V695.5H247.5V694.0" stroke="#2b5c9e"/>
<rect x="247" y="692.0" width="6" height="3" fill="#55a4d2"/>
<path d="M247.5 695.0V692.5H252.5V695.0" stroke="#2b5c9e"/>
<rect x="252" y="692.0" width="6" height="3" fill="#55a4d2"/>
<path d="M252.5 695.0V692.5H257.5V695.0" stroke="#2b5c9e"/>
<rect x="257" y="692.0" width="5" height="3" fill="#55a4d2"/>
<path d="M257.5 695.0V692.5H261.5V695.0" stroke="#2b5c9e"/>
<rect x="261" y="692.0" width="6" height="3" fill="#55a4d2"/>
<path d="M261.5 695.0V692.5H266.5V695.0" stroke="#2b5c9e"/>
<rect x="266" y="693.0" width="5" height="2" fill="#55a4d2"/>
<path d="M266.5 695.0V693.5H270.5V695.0" stroke="#2b5c9e"/>
<rect x="270" y="692.0" width="6" height="3" fill="#55a4d2"/>
<path d="M270.5 695.0V692.5H275.5V695.0" stroke="#2b5c9e"/>
<rect x="275" y="693.0" width="6" height="2" fill="#55a4d2"/>
<path d="M275.5 695.0V693.5H280.5V695.0" stroke="#2b5c9e"/>
<rect x="280" y="693.0" width="5" height="2" fill="#55a4d2"/>
<path d="M280.5 695.0V693.5H284.5V695.0" stroke="#2b5c9e"/>
<rect x="284" y="694.0" width="6" height="2" fill="#55a4d2"/>
<path d="M284.5 694.0V695.5H289.5V694.0" stroke="#2b5c9e"/>
<rect x="289" y="694.0" width="6" height="1" fill="#2b5c9e"/>
<rect x="294" y="692.0" width="5" height="3" fill="#55a4d2"/>
<path d="M294.5 695.0V692.5H298.5V695.0" stroke="#2b5c9e"/>
<rect x="298" y="690.0" width="6" height="5" fill="#55a4d2"/>
<path d="M298.5 695.0V690.5H303.5V695.0" stroke="#2b5c9e"/>
<rect x="303" y="689.0" width="5" height="6" fill="#55a4d2"/>
<path d="M303.5 695.0V689.5H307.5V695.0" stroke="#2b5c9e"/>
<rect x="307" y="690.0" width="6" height="5" fill="#55a4d2"/>
<path d="M307.5 695.0V690.5H312.5V695.0" stroke="#2b5c9e"/>
<rect x="312" y="690.0" width="6" height="5" fill="#55a4d2"/>
<path d="M312.5 695.0V690.5H317.5V695.0" stroke="#2b5c9e"/>
<rect x="317" y="690.0" width="5" height="5" fill="#55a4d2"/>
<path d="M317.5 695.0V690.5H321.5V695.0" stroke="#2b5c9e"/>
<rect x="321" y="690.0" width="6" height="5" fill="#55a4d2"/>
<path d="M321.5 695.0V690.5H326.5V695.0" stroke="#2b5c9e"/>
<rect x="326" y="692.0" width="6" height="3" fill="#55a4d2"/>
<path d="M326.5 695.0V692.5H331.5V695.0" stroke="#2b5c9e"/>
<rect x="331" y="694.0" width="5" height="6" fill="#55a4d2"/>
<path d="M331.5 694.0V699.5H335.5V694.0" stroke="#2b5c9e"/>
<rect x="335" y="694.0" width="6" height="10" fill="#55a4d2"/>
<path d="M335.5 694.0V703.5H340.5V694.0" stroke="#2b5c9e"/>
<rect x="340" y="694.0" width="5" height="11" fill="#55a4d2"/>
<path d="M340.5 694.0V704.5H344.5V694.0" stroke="#2b5c9e"/>
<rect x="344" y="694.0" width="6" height="13" fill="#55a4d2"/>
<path d="M344.5 694.0V706.5H349.5V694.0" stroke="#2b5c9e"/>
<rect x="349" y="694.0" width="6" height="14" fill="#55a4d2"/>
<path d="M349.5 694.0V707.5H354.5V694.0" stroke="#2b5c9e"/>
<rect x="354" y="694.0" width="5" height="14" fill="#55a4d2"/>
<path d="M354.5 694.0V707.5H358.5V694.0" stroke="#2b5c9e"/>
<rect x="358" y="694.0" width="6" height="13" fill="#55a4d2"/>
<path d="M358.5 694.0V706.5H363.5V694.0" stroke="#2b5c9e"/>
<rect x="363" y="694.0" width="6" height="13" fill="#55a4d2"/>
<path d="M363.5 694.0V706.5H368.5V694.0" stroke="#2b5c9e"/>
<rect x="368" y="694.0" width="5" height="12" fill="#55a4d2"/>
<path d="M368.5 694.0V705.5H372.5V694.0" stroke="#2b5c9e"/>
<rect x="372" y="694.0" width="6" height="10" fill="#55a4d2"/>
<path d="M372.5 694.0V703.5H377.5V694.0" stroke="#2b5c9e"/>
<rect x="377" y="694.0" width="5" height="6" fill="#55a4d2"/>
<path d="M377.5 694.0V699.5H381.5V694.0" stroke="#2b5c9e"/>
<rect x="381" y="694.0" width="6" height="2" fill="#55a4d2"/>
<path d="M381.5 694.0V695.5H386.5V694.0" stroke="#2b5c9e"/>
<rect x="386" y="691.0" width="6" height="4" fill="#55a4d2"/>
<path d="M386.5 695.0V691.5H391.5V695.0" stroke="#2b5c9e"/>
<rect x="391" y="689.0" width="5" height="6" fill="#55a4d2"/>
<path d="M391.5 695.0V689.5H395.5V695.0" stroke="#2b5c9e"/>
<rect x="395" y="690.0" width="6" height="5" fill="#55a4d2"/>
<path d="M395.5 695.0V690.5H400.5V695.0" stroke="#2b5c9e"/>
<rect x="400" y="692.0" width="6" height="3" fill="#55a4d2"/>
<path d="M400.5 695.0V692.5H405.5V695.0" stroke="#2b5c9e"/>
<rect x="405" y="693.0" width="5" height="2" fill="#55a4d2"/>
<path d="M405.5 695.0V693.5H409.5V695.0" stroke="#2b5c9e"/>
<rect x="409" y="693.0" width="6" height="2" fill="#55a4d2"/>
<path d="M409.5 695.0V693.5H414.5V695.0" stroke="#2b5c9e"/>
<rect x="414" y="693.0" width="5" height="2" fill="#55a4d2"/>
<path d="M414.5 695.0V693.5H418.5V695.0" stroke="#2b5c9e"/>
<rect x="418" y="693.0" width="6" height="2" fill="#55a4d2"/>
<path d="M418.5 695.0V693.5H423.5V695.0" stroke="#2b5c9e"/>
<rect x="423" y="692.0" width="6" height="3" fill="#55a4d2"/>
<path d="M423.5 695.0V692.5H428.5V695.0" stroke="#2b5c9e"/>
<rect x="428" y="693.0" width="5" height="2" fill="#55a4d2"/>
<path d="M428.5 695.0V693.5H432.5V695.0" stroke="#2b5c9e"/>
<rect x="432" y="694.0" width="6" height="1" fill="#2b5c9e"/>
<rect x="437" y="694.0" width="6" height="2" fill="#55a4d2"/>
<path d="M437.5 694.0V695.5H442.5V694.0" stroke="#2b5c9e"/>
<rect x="442" y="692.0" width="5" height="3" fill="#55a4d2"/>
<path d="M442.5 695.0V692.5H446.5V695.0" stroke="#2b5c9e"/>
<rect x="446" y="693.0" width="6" height="2" fill="#55a4d2"/>
<path d="M446.5 695.0V693.5H451.5V695.0" stroke="#2b5c9e"/>
<rect x="451" y="693.0" width="5" height="2" fill="#55a4d2"/>
<path d="M451.5 695.0V693.5H455.5V695.0" stroke="#2b5c9e"/>
<rect x="455" y="692.0" width="6" height="3" fill="#55a4d2"/>
<path d="M455.5 695.0V692.5H460.5V695.0" stroke="#2b5c9e"/>
<rect x="460" y="692.0" width="6" height="3" fill="#55a4d2"/>
<path d="M460.5 695.0V692.5H465.5V695.0" stroke="#2b5c9e"/>
<rect x="465" y="692.0" width="5" height="3" fill="#55a4d2"/>
<path d="M465.5 695.0V692.5H469.5V695.0" stroke="#2b5c9e"/>
<rect x="469" y="693.0" width="6" height="2" fill="#55a4d2"/>
<path d="M469.5 695.0V693.5H474.5V695.0" stroke="#2b5c9e"/>
<rect x="474" y="692.0" width="6" height="3" fill="#55a4d2"/>
<path d="M474.5 695.0V692.5H479.5V695.0" stroke="#2b5c9e"/>
<rect x="479" y="691.0" width="5" height="4" fill="#55a4d2"/>
<path d="M479.5 695.0V691.5H483.5V695.0" stroke="#2b5c9e"/>
<rect x="483" y="690.0" width="6" height="5" fill="#55a4d2"/>
<path d="M483.5 695.0V690.5H488.5V695.0" stroke="#2b5c9e"/>
<rect x="488" y="691.0" width="5" height="4" fill="#55a4d2"/>
<path d="M488.5 695.0V691.5H492.5V695.0" stroke="#2b5c9e"/>
<rect x="492" y="689.0" width="6" height="6" fill="#55a4d2"/>
<path d="M492.5 695.0V689.5H497.5V695.0" stroke="#2b5c9e"/>
<rect x="497" y="688.0" width="6" height="7" fill="#55a4d2"/>
<path d="M497.5 695.0V688.5H502.5V695.0" stroke="#2b5c9e"/>
<rect x="502" y="686.0" width="5" height="9" fill="#55a4d2"/>
<path d="M502.5 695.0V686.5H506.5V695.0" stroke="#2b5c9e"/>
<rect x="506" y="685.0" width="6" height="10" fill="#55a4d2"/>
<path d="M506.5 695.0V685.5H511.5V695.0" stroke="#2b5c9e"/>
<rect x="511" y="684.0" width="6" height="11" fill="#55a4d2"/>
<path d="M511.5 695.0V684.5H516.5V695.0" stroke="#2b5c9e"/>
<rect x="516" y="684.0" width="5" height="11" fill="#55a4d2"/>
<path d="M516.5 695.0V684.5H520.5V695.0" stroke="#2b5c9e"/>
<rect x="520" y="685.0" width="6" height="10" fill="#55a4d2"/>
<path d="M520.5 695.0V685.5H525.5V695.0" stroke="#2b5c9e"/>
<rect x="525" y="688.0" width="5" height="7" fill="#55a4d2"/>
<path d="M525.5 695.0V688.5H529.5V695.0" stroke="#2b5c9e"/>
<rect x="529" y="691.0" width="6" height="4" fill="#55a4d2"/>
<path d="M529.5 695.0V691.5H534.5V695.0" stroke="#2b5c9e"/>
<rect x="534" y="692.0" width="6" height="3" fill="#55a4d2"/>
<path d="M534.5 695.0V692.5H539.5V695.0" stroke="#2b5c9e"/>
<rect x="539" y="694.0" width="5" height="1" fill="#2b5c9e"/>
<rect x="543" y="694.0" width="6" height="1" fill="#2b5c9e"/>
<rect x="548" y="694.0" width="6" height="1" fill="#2b5c9e"/>
<rect x="553" y="694.0" width="5" height="2" fill="#55a4d2"/>
<path d="M553.5 694.0V695.5H557.5V694.0" stroke="#2b5c9e"/>
<rect x="557" y="694.0" width="6" height="3" fill="#55a4d2"/>
<path d="M557.5 694.0V696.5H562.5V694.0" stroke="#2b5c9e"/>
<rect x="562" y="694.0" width="5" height="4" fill="#55a4d2"/>
<path d="M562.5 694.0V697.5H566.5V694.0" stroke="#2b5c9e"/>
<rect x="566" y="694.0" width="6" height="5" fill="#55a4d2"/>
<path d="M566.5 694.0V698.5H571.5V694.0" stroke="#2b5c9e"/>
<rect x="571" y="694.0" width="6" height="3" fill="#55a4d2"/>
<path d="M571.5 694.0V696.5H576.5V694.0" stroke="#2b5c9e"/>
<rect x="576" y="694.0" width="5" height="3" fill="#55a4d2"/>
<path d="M576.5 694.0V696.5H580.5V694.0" stroke="#2b5c9e"/>
<rect x="580" y="694.0" width="6" height="3" fill="#55a4d2"/>
<path d="M580.5 694.0V696.5H585.5V694.0" stroke="#2b5c9e"/>
<rect x="585" y="694.0" width="6" height="5" fill="#55a4d2"/>
<path d="M585.5 694.0V698.5H590.5V694.0" stroke="#2b5c9e"/>
<rect x="590" y="694.0" width="5" height="6" fill="#55a4d2"/>
<path d="M590.5 694.0V699.5H594.5V694.0" stroke="#2b5c9e"/>
<rect x="594" y="694.0" width="6" height="7" fill="#55a4d2"/>
<path d="M594.5 694.0V700.5H599.5V694.0" stroke="#2b5c9e"/>
<rect x="599" y="694.0" width="5" height="7" fill="#55a4d2"/>
<path d="M599.5 694.0V700.5H603.5V694.0" stroke="#2b5c9e"/>
<rect x="603" y="694.0" width="6" height="7" fill="#55a4d2"/>
<path d="M603.5 694.0V700.5H608.5V694.0" stroke="#2b5c9e"/>
<rect x="608" y="694.0" width="6" height="3" fill="#55a4d2"/>
<path d="M608.5 694.0V696.5H613.5V694.0" stroke="#2b5c9e"/>
<rect x="613" y="694.0" width="5" height="2" fill="#55a4d2"/>
<path d="M613.5 694.0V695.5H617.5V694.0" stroke="#2b5c9e"/>
<rect x="617" y="694.0" width="6" height="3" fill="#55a4d2"/>
<path d="M617.5 694.0V696.5H622.5V694.0" stroke="#2b5c9e"/>
</g>
<polyline points="17,763.72 18.5,764.31 23.5,767.24 27.5,771.55 32.5,774.49 37.5,778.4 41.5,782.9 46.5,787.6 50.5,793.66 55.5,796.4 60.5,798.95 64.5,800.32 69.5,797.97 74.5,794.06 78.5,789.16 83.5,783.29 87.5,776.83 92.5,770.57 97.5,765.29 101.5,759.81 106.5,755.89 111.5,751.59 115.5,746.11 120.5,741.8 124.5,737.3 129.5,733.86 134.5,730.09 138.5,725.92 143.5,721.52 148.5,716.94 152.5,712.54 157.5,708.34 161.5,704.33 166.5,701.08 171.5,698.21 175.5,695.73 180.5,693.82 185.5,692.86 189.5,691.52 194.5,691.14 198.5,691.14 203.5,690.95 208.5,690.95 212.5,691.52 217.5,692.86 222.5,694.77 226.5,696.3 231.5,697.83 235.5,698.78 240.5,699.17 245.5,699.17 249.5,698.69 254.5,698.21 259.5,697.64 263.5,697.26 268.5,696.87 272.5,696.3 277.5,695.92 282.5,695.92 286.5,695.92 291.5,695.92 296.5,695.35 300.5,694.39 305.5,693.44 309.5,692.48 314.5,691.52 319.5,690.57 323.5,689.61 328.5,689.04 333.5,690.57 337.5,693.44 342.5,696.3 346.5,699.55 351.5,702.99 356.5,706.43 360.5,709.29 365.5,711.3 370.5,713.78 374.5,715.69 379.5,716.94 383.5,717.32 388.5,716.74 393.5,715.41 397.5,714.83 402.5,714.07 407.5,713.5 411.5,713.11 416.5,712.92 420.5,712.92 425.5,712.54 430.5,712.16 434.5,711.97 439.5,711.97 444.5,711.78 448.5,711.59 453.5,711.2 457.5,710.82 462.5,710.38 467.5,710.1 471.5,709.61 476.5,709.15 481.5,708.47 485.5,707.45 490.5,706.87 494.5,705.37 499.5,704.13 504.5,702.1 508.5,699.64 513.5,697.03 518.5,694.69 522.5,692.53 527.5,691.17 531.5,690.51 536.5,690.32 541.5,690.19 545.5,690.19 550.5,690.19 555.5,690.57 559.5,691.52 564.5,692.48 568.5,693.44 573.5,694.39 578.5,694.96 582.5,695.73 587.5,696.87 592.5,698.21 596.5,700.12 601.5,701.46 605.5,702.61 610.5,703.37 615.5,703.56 619.5,703.94" fill="none" stroke="#f01414" stroke-width="1.1" stroke-linejoin="round"/>
<polyline points="17,772.85 18.5,773.12 23.5,778.4 27.5,786.23 32.5,787.6 37.5,793.08 41.5,801.88 46.5,807.76 50.5,814.02 55.5,812.26 60.5,810.3 64.5,799.93 69.5,790.14 74.5,780.36 78.5,767.24 83.5,761.18 87.5,751.59 92.5,744.54 97.5,741.8 101.5,739.26 106.5,737.3 111.5,733.39 115.5,727.13 120.5,723.21 124.5,720.67 129.5,719.46 134.5,717.52 138.5,712.54 143.5,707.76 148.5,702.99 152.5,697.26 157.5,692.48 161.5,688.09 166.5,686.37 171.5,687.32 175.5,686.75 180.5,686.18 185.5,685.41 189.5,687.32 194.5,688.66 198.5,689.61 203.5,690.95 208.5,693.44 212.5,695.35 217.5,697.26 222.5,699.55 226.5,702.99 231.5,704.9 235.5,703.94 240.5,702.03 245.5,699.17 249.5,697.45 254.5,696.3 259.5,695.73 263.5,695.35 268.5,695.92 272.5,694.96 277.5,695.35 282.5,695.73 286.5,696.3 291.5,695.92 296.5,693.44 300.5,690.57 305.5,688.28 309.5,687.7 314.5,688.28 319.5,687.32 323.5,686.37 328.5,688.66 333.5,697.26 337.5,702.03 342.5,705.85 346.5,711.2 351.5,715.41 356.5,718.27 360.5,720.76 365.5,722.38 370.5,725.34 374.5,723.53 379.5,721.14 383.5,716.74 388.5,713.88 393.5,710.63 397.5,710.63 402.5,711.97 407.5,713.11 411.5,712.54 416.5,712.54 420.5,712.54 425.5,711.59 430.5,711.59 434.5,711.59 439.5,712.54 444.5,710.63 448.5,710.63 453.5,710.25 457.5,709.29 462.5,708.72 467.5,708.66 471.5,708.25 476.5,707.3 481.5,705.6 485.5,704.47 490.5,704.43 494.5,700.6 499.5,697.42 504.5,693.61 508.5,690.5 513.5,687.75 518.5,684.94 522.5,683.18 527.5,684.66 531.5,686.2 536.5,688.29 541.5,690 545.5,690.95 550.5,690.19 555.5,692.48 559.5,694.77 564.5,695.92 568.5,697.64 573.5,697.64 578.5,697.64 582.5,699.17 587.5,701.46 592.5,704.33 596.5,706.81 601.5,708.34 605.5,708.15 610.5,705.85 615.5,704.52 619.5,705.28" fill="none" stroke="#111" stroke-width="1.65" stroke-linejoin="round" stroke-linecap="round"/>
<g shape-rendering="crispEdges" fill="none">
<rect x="16.5" y="29.5" width="610.0" height="160.0" stroke="#b4b4b4"/>
<rect x="16.5" y="189.5" width="610.0" height="457.0" stroke="#b4b4b4"/>
<rect x="16.5" y="661.5" width="610.0" height="160.0" stroke="#b4b4b4"/>
<line x1="18.5" x2="18.5" y1="647" y2="648" stroke="#c8c8c8"/>
<line x1="18.5" x2="18.5" y1="660" y2="661" stroke="#c8c8c8"/>
<line x1="18.5" x2="18.5" y1="822" y2="823" stroke="#c8c8c8"/>
<line x1="23.5" x2="23.5" y1="647" y2="648" stroke="#c8c8c8"/>
<line x1="23.5" x2="23.5" y1="660" y2="661" stroke="#c8c8c8"/>
<line x1="23.5" x2="23.5" y1="822" y2="823" stroke="#c8c8c8"/>
<line x1="27.5" x2="27.5" y1="647" y2="648" stroke="#c8c8c8"/>
<line x1="27.5" x2="27.5" y1="660" y2="661" stroke="#c8c8c8"/>
<line x1="27.5" x2="27.5" y1="822" y2="823" stroke="#c8c8c8"/>
<line x1="32.5" x2="32.5" y1="647" y2="649" stroke="#c8c8c8"/>
<line x1="32.5" x2="32.5" y1="659" y2="661" stroke="#c8c8c8"/>
<line x1="32.5" x2="32.5" y1="822" y2="824" stroke="#c8c8c8"/>
<line x1="32.5" x2="32.5" y1="836" y2="838" stroke="#d4d4d4"/>
<line x1="37.5" x2="37.5" y1="647" y2="648" stroke="#c8c8c8"/>
<line x1="37.5" x2="37.5" y1="660" y2="661" stroke="#c8c8c8"/>
<line x1="37.5" x2="37.5" y1="822" y2="823" stroke="#c8c8c8"/>
<line x1="41.5" x2="41.5" y1="647" y2="648" stroke="#c8c8c8"/>
<line x1="41.5" x2="41.5" y1="660" y2="661" stroke="#c8c8c8"/>
<line x1="41.5" x2="41.5" y1="822" y2="823" stroke="#c8c8c8"/>
<line x1="46.5" x2="46.5" y1="647" y2="648" stroke="#c8c8c8"/>
<line x1="46.5" x2="46.5" y1="660" y2="661" stroke="#c8c8c8"/>
<line x1="46.5" x2="46.5" y1="822" y2="823" stroke="#c8c8c8"/>
<line x1="50.5" x2="50.5" y1="647" y2="649" stroke="#c8c8c8"/>
<line x1="50.5" x2="50.5" y1="659" y2="661" stroke="#c8c8c8"/>
<line x1="50.5" x2="50.5" y1="822" y2="824" stroke="#c8c8c8"/>
<line x1="50.5" x2="50.5" y1="836" y2="838" stroke="#d4d4d4"/>
<line x1="55.5" x2="55.5" y1="647" y2="648" stroke="#c8c8c8"/>
<line x1="55.5" x2="55.5" y1="660" y2="661" stroke="#c8c8c8"/>
<line x1="55.5" x2="55.5" y1="822" y2="823" stroke="#c8c8c8"/>
<line x1="60.5" x2="60.5" y1="647" y2="648" stroke="#c8c8c8"/>
<line x1="60.5" x2="60.5" y1="660" y2="661" stroke="#c8c8c8"/>
<line x1="60.5" x2="60.5" y1="822" y2="823" stroke="#c8c8c8"/>
<line x1="64.5" x2="64.5" y1="647" y2="648" stroke="#c8c8c8"/>
<line x1="64.5" x2="64.5" y1="660" y2="661" stroke="#c8c8c8"/>
<line x1="64.5" x2="64.5" y1="822" y2="823" stroke="#c8c8c8"/>
<line x1="69.5" x2="69.5" y1="647" y2="648" stroke="#c8c8c8"/>
<line x1="69.5" x2="69.5" y1="660" y2="661" stroke="#c8c8c8"/>
<line x1="69.5" x2="69.5" y1="822" y2="823" stroke="#c8c8c8"/>
<line x1="74.5" x2="74.5" y1="647" y2="649" stroke="#c8c8c8"/>
<line x1="74.5" x2="74.5" y1="659" y2="661" stroke="#c8c8c8"/>
<line x1="74.5" x2="74.5" y1="822" y2="824" stroke="#c8c8c8"/>
<line x1="74.5" x2="74.5" y1="836" y2="838" stroke="#d4d4d4"/>
<line x1="78.5" x2="78.5" y1="647" y2="648" stroke="#c8c8c8"/>
<line x1="78.5" x2="78.5" y1="660" y2="661" stroke="#c8c8c8"/>
<line x1="78.5" x2="78.5" y1="822" y2="823" stroke="#c8c8c8"/>
<line x1="83.5" x2="83.5" y1="647" y2="648" stroke="#c8c8c8"/>
<line x1="83.5" x2="83.5" y1="660" y2="661" stroke="#c8c8c8"/>
<line x1="83.5" x2="83.5" y1="822" y2="823" stroke="#c8c8c8"/>
<line x1="87.5" x2="87.5" y1="647" y2="648" stroke="#c8c8c8"/>
<line x1="87.5" x2="87.5" y1="660" y2="661" stroke="#c8c8c8"/>
<line x1="87.5" x2="87.5" y1="822" y2="823" stroke="#c8c8c8"/>
<line x1="92.5" x2="92.5" y1="647" y2="649" stroke="#c8c8c8"/>
<line x1="92.5" x2="92.5" y1="659" y2="661" stroke="#c8c8c8"/>
<line x1="92.5" x2="92.5" y1="822" y2="824" stroke="#c8c8c8"/>
<line x1="92.5" x2="92.5" y1="836" y2="838" stroke="#d4d4d4"/>
<line x1="97.5" x2="97.5" y1="647" y2="648" stroke="#c8c8c8"/>
<line x1="97.5" x2="97.5" y1="660" y2="661" stroke="#c8c8c8"/>
<line x1="97.5" x2="97.5" y1="822" y2="823" stroke="#c8c8c8"/>
<line x1="101.5" x2="101.5" y1="647" y2="648" stroke="#c8c8c8"/>
<line x1="101.5" x2="101.5" y1="660" y2="661" stroke="#c8c8c8"/>
<line x1="101.5" x2="101.5" y1="822" y2="823" stroke="#c8c8c8"/>
<line x1="106.5" x2="106.5" y1="647" y2="648" stroke="#c8c8c8"/>
<line x1="106.5" x2="106.5" y1="660" y2="661" stroke="#c8c8c8"/>
<line x1="106.5" x2="106.5" y1="822" y2="823" stroke="#c8c8c8"/>
<line x1="111.5" x2="111.5" y1="647" y2="649" stroke="#c8c8c8"/>
<line x1="111.5" x2="111.5" y1="659" y2="661" stroke="#c8c8c8"/>
<line x1="111.5" x2="111.5" y1="822" y2="824" stroke="#c8c8c8"/>
<line x1="111.5" x2="111.5" y1="836" y2="838" stroke="#d4d4d4"/>
<line x1="115.5" x2="115.5" y1="647" y2="648" stroke="#c8c8c8"/>
<line x1="115.5" x2="115.5" y1="660" y2="661" stroke="#c8c8c8"/>
<line x1="115.5" x2="115.5" y1="822" y2="823" stroke="#c8c8c8"/>
<line x1="120.5" x2="120.5" y1="647" y2="648" stroke="#c8c8c8"/>
<line x1="120.5" x2="120.5" y1="660" y2="661" stroke="#c8c8c8"/>
<line x1="120.5" x2="120.5" y1="822" y2="823" stroke="#c8c8c8"/>
<line x1="124.5" x2="124.5" y1="647" y2="648" stroke="#c8c8c8"/>
<line x1="124.5" x2="124.5" y1="660" y2="661" stroke="#c8c8c8"/>
<line x1="124.5" x2="124.5" y1="822" y2="823" stroke="#c8c8c8"/>
<line x1="129.5" x2="129.5" y1="647" y2="648" stroke="#c8c8c8"/>
<line x1="129.5" x2="129.5" y1="660" y2="661" stroke="#c8c8c8"/>
<line x1="129.5" x2="129.5" y1="822" y2="823" stroke="#c8c8c8"/>
<line x1="134.5" x2="134.5" y1="647" y2="649" stroke="#c8c8c8"/>
<line x1="134.5" x2="134.5" y1="659" y2="661" stroke="#c8c8c8"/>
<line x1="134.5" x2="134.5" y1="822" y2="824" stroke="#c8c8c8"/>
<line x1="134.5" x2="134.5" y1="836" y2="838" stroke="#d4d4d4"/>
<line x1="138.5" x2="138.5" y1="647" y2="648" stroke="#c8c8c8"/>
<line x1="138.5" x2="138.5" y1="660" y2="661" stroke="#c8c8c8"/>
<line x1="138.5" x2="138.5" y1="822" y2="823" stroke="#c8c8c8"/>
<line x1="143.5" x2="143.5" y1="647" y2="648" stroke="#c8c8c8"/>
<line x1="143.5" x2="143.5" y1="660" y2="661" stroke="#c8c8c8"/>
<line x1="143.5" x2="143.5" y1="822" y2="823" stroke="#c8c8c8"/>
<line x1="148.5" x2="148.5" y1="647" y2="648" stroke="#c8c8c8"/>
<line x1="148.5" x2="148.5" y1="660" y2="661" stroke="#c8c8c8"/>
<line x1="148.5" x2="148.5" y1="822" y2="823" stroke="#c8c8c8"/>
<line x1="152.5" x2="152.5" y1="647" y2="649" stroke="#c8c8c8"/>
<line x1="152.5" x2="152.5" y1="659" y2="661" stroke="#c8c8c8"/>
<line x1="152.5" x2="152.5" y1="822" y2="824" stroke="#c8c8c8"/>
<line x1="152.5" x2="152.5" y1="836" y2="838" stroke="#d4d4d4"/>
<line x1="157.5" x2="157.5" y1="647" y2="648" stroke="#c8c8c8"/>
<line x1="157.5" x2="157.5" y1="660" y2="661" stroke="#c8c8c8"/>
<line x1="157.5" x2="157.5" y1="822" y2="823" stroke="#c8c8c8"/>
<line x1="161.5" x2="161.5" y1="647" y2="648" stroke="#c8c8c8"/>
<line x1="161.5" x2="161.5" y1="660" y2="661" stroke="#c8c8c8"/>
<line x1="161.5" x2="161.5" y1="822" y2="823" stroke="#c8c8c8"/>
<line x1="166.5" x2="166.5" y1="647" y2="648" stroke="#c8c8c8"/>
<line x1="166.5" x2="166.5" y1="660" y2="661" stroke="#c8c8c8"/>
<line x1="166.5" x2="166.5" y1="822" y2="823" stroke="#c8c8c8"/>
<line x1="171.5" x2="171.5" y1="647" y2="648" stroke="#c8c8c8"/>
<line x1="171.5" x2="171.5" y1="660" y2="661" stroke="#c8c8c8"/>
<line x1="171.5" x2="171.5" y1="822" y2="823" stroke="#c8c8c8"/>
<line x1="175.5" x2="175.5" y1="647" y2="649" stroke="#c8c8c8"/>
<line x1="175.5" x2="175.5" y1="659" y2="661" stroke="#c8c8c8"/>
<line x1="175.5" x2="175.5" y1="822" y2="824" stroke="#c8c8c8"/>
<line x1="175.5" x2="175.5" y1="836" y2="838" stroke="#d4d4d4"/>
<line x1="180.5" x2="180.5" y1="647" y2="648" stroke="#c8c8c8"/>
<line x1="180.5" x2="180.5" y1="660" y2="661" stroke="#c8c8c8"/>
<line x1="180.5" x2="180.5" y1="822" y2="823" stroke="#c8c8c8"/>
<line x1="185.5" x2="185.5" y1="647" y2="648" stroke="#c8c8c8"/>
<line x1="185.5" x2="185.5" y1="660" y2="661" stroke="#c8c8c8"/>
<line x1="185.5" x2="185.5" y1="822" y2="823" stroke="#c8c8c8"/>
<line x1="189.5" x2="189.5" y1="647" y2="648" stroke="#c8c8c8"/>
<line x1="189.5" x2="189.5" y1="660" y2="661" stroke="#c8c8c8"/>
<line x1="189.5" x2="189.5" y1="822" y2="823" stroke="#c8c8c8"/>
<line x1="194.5" x2="194.5" y1="647" y2="649" stroke="#c8c8c8"/>
<line x1="194.5" x2="194.5" y1="659" y2="661" stroke="#c8c8c8"/>
<line x1="194.5" x2="194.5" y1="822" y2="824" stroke="#c8c8c8"/>
<line x1="194.5" x2="194.5" y1="836" y2="838" stroke="#d4d4d4"/>
<line x1="198.5" x2="198.5" y1="647" y2="648" stroke="#c8c8c8"/>
<line x1="198.5" x2="198.5" y1="660" y2="661" stroke="#c8c8c8"/>
<line x1="198.5" x2="198.5" y1="822" y2="823" stroke="#c8c8c8"/>
<line x1="203.5" x2="203.5" y1="647" y2="648" stroke="#c8c8c8"/>
<line x1="203.5" x2="203.5" y1="660" y2="661" stroke="#c8c8c8"/>
<line x1="203.5" x2="203.5" y1="822" y2="823" stroke="#c8c8c8"/>
<line x1="208.5" x2="208.5" y1="647" y2="648" stroke="#c8c8c8"/>
<line x1="208.5" x2="208.5" y1="660" y2="661" stroke="#c8c8c8"/>
<line x1="208.5" x2="208.5" y1="822" y2="823" stroke="#c8c8c8"/>
<line x1="212.5" x2="212.5" y1="647" y2="649" stroke="#c8c8c8"/>
<line x1="212.5" x2="212.5" y1="659" y2="661" stroke="#c8c8c8"/>
<line x1="212.5" x2="212.5" y1="822" y2="824" stroke="#c8c8c8"/>
<line x1="212.5" x2="212.5" y1="836" y2="838" stroke="#d4d4d4"/>
<line x1="217.5" x2="217.5" y1="647" y2="648" stroke="#c8c8c8"/>
<line x1="217.5" x2="217.5" y1="660" y2="661" stroke="#c8c8c8"/>
<line x1="217.5" x2="217.5" y1="822" y2="823" stroke="#c8c8c8"/>
<line x1="222.5" x2="222.5" y1="647" y2="648" stroke="#c8c8c8"/>
<line x1="222.5" x2="222.5" y1="660" y2="661" stroke="#c8c8c8"/>
<line x1="222.5" x2="222.5" y1="822" y2="823" stroke="#c8c8c8"/>
<line x1="226.5" x2="226.5" y1="647" y2="648" stroke="#c8c8c8"/>
<line x1="226.5" x2="226.5" y1="660" y2="661" stroke="#c8c8c8"/>
<line x1="226.5" x2="226.5" y1="822" y2="823" stroke="#c8c8c8"/>
<line x1="231.5" x2="231.5" y1="647" y2="648" stroke="#c8c8c8"/>
<line x1="231.5" x2="231.5" y1="660" y2="661" stroke="#c8c8c8"/>
<line x1="231.5" x2="231.5" y1="822" y2="823" stroke="#c8c8c8"/>
<line x1="235.5" x2="235.5" y1="647" y2="649" stroke="#c8c8c8"/>
<line x1="235.5" x2="235.5" y1="659" y2="661" stroke="#c8c8c8"/>
<line x1="235.5" x2="235.5" y1="822" y2="824" stroke="#c8c8c8"/>
<line x1="235.5" x2="235.5" y1="836" y2="838" stroke="#d4d4d4"/>
<line x1="240.5" x2="240.5" y1="647" y2="648" stroke="#c8c8c8"/>
<line x1="240.5" x2="240.5" y1="660" y2="661" stroke="#c8c8c8"/>
<line x1="240.5" x2="240.5" y1="822" y2="823" stroke="#c8c8c8"/>
<line x1="245.5" x2="245.5" y1="647" y2="648" stroke="#c8c8c8"/>
<line x1="245.5" x2="245.5" y1="660" y2="661" stroke="#c8c8c8"/>
<line x1="245.5" x2="245.5" y1="822" y2="823" stroke="#c8c8c8"/>
<line x1="249.5" x2="249.5" y1="647" y2="648" stroke="#c8c8c8"/>
<line x1="249.5" x2="249.5" y1="660" y2="661" stroke="#c8c8c8"/>
<line x1="249.5" x2="249.5" y1="822" y2="823" stroke="#c8c8c8"/>
<line x1="254.5" x2="254.5" y1="647" y2="649" stroke="#c8c8c8"/>
<line x1="254.5" x2="254.5" y1="659" y2="661" stroke="#c8c8c8"/>
<line x1="254.5" x2="254.5" y1="822" y2="824" stroke="#c8c8c8"/>
<line x1="254.5" x2="254.5" y1="836" y2="838" stroke="#d4d4d4"/>
<line x1="259.5" x2="259.5" y1="647" y2="648" stroke="#c8c8c8"/>
<line x1="259.5" x2="259.5" y1="660" y2="661" stroke="#c8c8c8"/>
<line x1="259.5" x2="259.5" y1="822" y2="823" stroke="#c8c8c8"/>
<line x1="263.5" x2="263.5" y1="647" y2="648" stroke="#c8c8c8"/>
<line x1="263.5" x2="263.5" y1="660" y2="661" stroke="#c8c8c8"/>
<line x1="263.5" x2="263.5" y1="822" y2="823" stroke="#c8c8c8"/>
<line x1="268.5" x2="268.5" y1="647" y2="648" stroke="#c8c8c8"/>
<line x1="268.5" x2="268.5" y1="660" y2="661" stroke="#c8c8c8"/>
<line x1="268.5" x2="268.5" y1="822" y2="823" stroke="#c8c8c8"/>
<line x1="272.5" x2="272.5" y1="647" y2="649" stroke="#c8c8c8"/>
<line x1="272.5" x2="272.5" y1="659" y2="661" stroke="#c8c8c8"/>
<line x1="272.5" x2="272.5" y1="822" y2="824" stroke="#c8c8c8"/>
<line x1="272.5" x2="272.5" y1="836" y2="838" stroke="#d4d4d4"/>
<line x1="277.5" x2="277.5" y1="647" y2="648" stroke="#c8c8c8"/>
<line x1="277.5" x2="277.5" y1="660" y2="661" stroke="#c8c8c8"/>
<line x1="277.5" x2="277.5" y1="822" y2="823" stroke="#c8c8c8"/>
<line x1="282.5" x2="282.5" y1="647" y2="648" stroke="#c8c8c8"/>
<line x1="282.5" x2="282.5" y1="660" y2="661" stroke="#c8c8c8"/>
<line x1="282.5" x2="282.5" y1="822" y2="823" stroke="#c8c8c8"/>
<line x1="286.5" x2="286.5" y1="647" y2="648" stroke="#c8c8c8"/>
<line x1="286.5" x2="286.5" y1="660" y2="661" stroke="#c8c8c8"/>
<line x1="286.5" x2="286.5" y1="822" y2="823" stroke="#c8c8c8"/>
<line x1="291.5" x2="291.5" y1="647" y2="649" stroke="#c8c8c8"/>
<line x1="291.5" x2="291.5" y1="659" y2="661" stroke="#c8c8c8"/>
<line x1="291.5" x2="291.5" y1="822" y2="824" stroke="#c8c8c8"/>
<line x1="291.5" x2="291.5" y1="836" y2="838" stroke="#d4d4d4"/>
<line x1="296.5" x2="296.5" y1="647" y2="648" stroke="#c8c8c8"/>
<line x1="296.5" x2="296.5" y1="660" y2="661" stroke="#c8c8c8"/>
<line x1="296.5" x2="296.5" y1="822" y2="823" stroke="#c8c8c8"/>
<line x1="300.5" x2="300.5" y1="647" y2="648" stroke="#c8c8c8"/>
<line x1="300.5" x2="300.5" y1="660" y2="661" stroke="#c8c8c8"/>
<line x1="300.5" x2="300.5" y1="822" y2="823" stroke="#c8c8c8"/>
<line x1="305.5" x2="305.5" y1="647" y2="648" stroke="#c8c8c8"/>
<line x1="305.5" x2="305.5" y1="660" y2="661" stroke="#c8c8c8"/>
<line x1="305.5" x2="305.5" y1="822" y2="823" stroke="#c8c8c8"/>
<line x1="309.5" x2="309.5" y1="647" y2="648" stroke="#c8c8c8"/>
<line x1="309.5" x2="309.5" y1="660" y2="661" stroke="#c8c8c8"/>
<line x1="309.5" x2="309.5" y1="822" y2="823" stroke="#c8c8c8"/>
<line x1="314.5" x2="314.5" y1="647" y2="649" stroke="#c8c8c8"/>
<line x1="314.5" x2="314.5" y1="659" y2="661" stroke="#c8c8c8"/>
<line x1="314.5" x2="314.5" y1="822" y2="824" stroke="#c8c8c8"/>
<line x1="314.5" x2="314.5" y1="836" y2="838" stroke="#d4d4d4"/>
<line x1="319.5" x2="319.5" y1="647" y2="648" stroke="#c8c8c8"/>
<line x1="319.5" x2="319.5" y1="660" y2="661" stroke="#c8c8c8"/>
<line x1="319.5" x2="319.5" y1="822" y2="823" stroke="#c8c8c8"/>
<line x1="323.5" x2="323.5" y1="647" y2="648" stroke="#c8c8c8"/>
<line x1="323.5" x2="323.5" y1="660" y2="661" stroke="#c8c8c8"/>
<line x1="323.5" x2="323.5" y1="822" y2="823" stroke="#c8c8c8"/>
<line x1="328.5" x2="328.5" y1="647" y2="648" stroke="#c8c8c8"/>
<line x1="328.5" x2="328.5" y1="660" y2="661" stroke="#c8c8c8"/>
<line x1="328.5" x2="328.5" y1="822" y2="823" stroke="#c8c8c8"/>
<line x1="333.5" x2="333.5" y1="647" y2="649" stroke="#c8c8c8"/>
<line x1="333.5" x2="333.5" y1="659" y2="661" stroke="#c8c8c8"/>
<line x1="333.5" x2="333.5" y1="822" y2="824" stroke="#c8c8c8"/>
<line x1="333.5" x2="333.5" y1="836" y2="838" stroke="#d4d4d4"/>
<line x1="337.5" x2="337.5" y1="647" y2="648" stroke="#c8c8c8"/>
<line x1="337.5" x2="337.5" y1="660" y2="661" stroke="#c8c8c8"/>
<line x1="337.5" x2="337.5" y1="822" y2="823" stroke="#c8c8c8"/>
<line x1="342.5" x2="342.5" y1="647" y2="648" stroke="#c8c8c8"/>
<line x1="342.5" x2="342.5" y1="660" y2="661" stroke="#c8c8c8"/>
<line x1="342.5" x2="342.5" y1="822" y2="823" stroke="#c8c8c8"/>
<line x1="346.5" x2="346.5" y1="647" y2="648" stroke="#c8c8c8"/>
<line x1="346.5" x2="346.5" y1="660" y2="661" stroke="#c8c8c8"/>
<line x1="346.5" x2="346.5" y1="822" y2="823" stroke="#c8c8c8"/>
<line x1="351.5" x2="351.5" y1="647" y2="649" stroke="#c8c8c8"/>
<line x1="351.5" x2="351.5" y1="659" y2="661" stroke="#c8c8c8"/>
<line x1="351.5" x2="351.5" y1="822" y2="824" stroke="#c8c8c8"/>
<line x1="351.5" x2="351.5" y1="836" y2="838" stroke="#d4d4d4"/>
<line x1="356.5" x2="356.5" y1="647" y2="648" stroke="#c8c8c8"/>
<line x1="356.5" x2="356.5" y1="660" y2="661" stroke="#c8c8c8"/>
<line x1="356.5" x2="356.5" y1="822" y2="823" stroke="#c8c8c8"/>
<line x1="360.5" x2="360.5" y1="647" y2="648" stroke="#c8c8c8"/>
<line x1="360.5" x2="360.5" y1="660" y2="661" stroke="#c8c8c8"/>
<line x1="360.5" x2="360.5" y1="822" y2="823" stroke="#c8c8c8"/>
<line x1="365.5" x2="365.5" y1="647" y2="648" stroke="#c8c8c8"/>
<line x1="365.5" x2="365.5" y1="660" y2="661" stroke="#c8c8c8"/>
<line x1="365.5" x2="365.5" y1="822" y2="823" stroke="#c8c8c8"/>
<line x1="370.5" x2="370.5" y1="647" y2="648" stroke="#c8c8c8"/>
<line x1="370.5" x2="370.5" y1="660" y2="661" stroke="#c8c8c8"/>
<line x1="370.5" x2="370.5" y1="822" y2="823" stroke="#c8c8c8"/>
<line x1="374.5" x2="374.5" y1="647" y2="649" stroke="#c8c8c8"/>
<line x1="374.5" x2="374.5" y1="659" y2="661" stroke="#c8c8c8"/>
<line x1="374.5" x2="374.5" y1="822" y2="824" stroke="#c8c8c8"/>
<line x1="374.5" x2="374.5" y1="836" y2="838" stroke="#d4d4d4"/>
<line x1="379.5" x2="379.5" y1="647" y2="648" stroke="#c8c8c8"/>
<line x1="379.5" x2="379.5" y1="660" y2="661" stroke="#c8c8c8"/>
<line x1="379.5" x2="379.5" y1="822" y2="823" stroke="#c8c8c8"/>
<line x1="383.5" x2="383.5" y1="647" y2="648" stroke="#c8c8c8"/>
<line x1="383.5" x2="383.5" y1="660" y2="661" stroke="#c8c8c8"/>
<line x1="383.5" x2="383.5" y1="822" y2="823" stroke="#c8c8c8"/>
<line x1="388.5" x2="388.5" y1="647" y2="648" stroke="#c8c8c8"/>
<line x1="388.5" x2="388.5" y1="660" y2="661" stroke="#c8c8c8"/>
<line x1="388.5" x2="388.5" y1="822" y2="823" stroke="#c8c8c8"/>
<line x1="393.5" x2="393.5" y1="647" y2="649" stroke="#c8c8c8"/>
<line x1="393.5" x2="393.5" y1="659" y2="661" stroke="#c8c8c8"/>
<line x1="393.5" x2="393.5" y1="822" y2="824" stroke="#c8c8c8"/>
<line x1="393.5" x2="393.5" y1="836" y2="838" stroke="#d4d4d4"/>
<line x1="397.5" x2="397.5" y1="647" y2="648" stroke="#c8c8c8"/>
<line x1="397.5" x2="397.5" y1="660" y2="661" stroke="#c8c8c8"/>
<line x1="397.5" x2="397.5" y1="822" y2="823" stroke="#c8c8c8"/>
<line x1="402.5" x2="402.5" y1="647" y2="648" stroke="#c8c8c8"/>
<line x1="402.5" x2="402.5" y1="660" y2="661" stroke="#c8c8c8"/>
<line x1="402.5" x2="402.5" y1="822" y2="823" stroke="#c8c8c8"/>
<line x1="407.5" x2="407.5" y1="647" y2="648" stroke="#c8c8c8"/>
<line x1="407.5" x2="407.5" y1="660" y2="661" stroke="#c8c8c8"/>
<line x1="407.5" x2="407.5" y1="822" y2="823" stroke="#c8c8c8"/>
<line x1="411.5" x2="411.5" y1="647" y2="648" stroke="#c8c8c8"/>
<line x1="411.5" x2="411.5" y1="660" y2="661" stroke="#c8c8c8"/>
<line x1="411.5" x2="411.5" y1="822" y2="823" stroke="#c8c8c8"/>
<line x1="416.5" x2="416.5" y1="647" y2="649" stroke="#c8c8c8"/>
<line x1="416.5" x2="416.5" y1="659" y2="661" stroke="#c8c8c8"/>
<line x1="416.5" x2="416.5" y1="822" y2="824" stroke="#c8c8c8"/>
<line x1="416.5" x2="416.5" y1="836" y2="838" stroke="#d4d4d4"/>
<line x1="420.5" x2="420.5" y1="647" y2="648" stroke="#c8c8c8"/>
<line x1="420.5" x2="420.5" y1="660" y2="661" stroke="#c8c8c8"/>
<line x1="420.5" x2="420.5" y1="822" y2="823" stroke="#c8c8c8"/>
<line x1="425.5" x2="425.5" y1="647" y2="648" stroke="#c8c8c8"/>
<line x1="425.5" x2="425.5" y1="660" y2="661" stroke="#c8c8c8"/>
<line x1="425.5" x2="425.5" y1="822" y2="823" stroke="#c8c8c8"/>
<line x1="430.5" x2="430.5" y1="647" y2="648" stroke="#c8c8c8"/>
<line x1="430.5" x2="430.5" y1="660" y2="661" stroke="#c8c8c8"/>
<line x1="430.5" x2="430.5" y1="822" y2="823" stroke="#c8c8c8"/>
<line x1="434.5" x2="434.5" y1="647" y2="649" stroke="#c8c8c8"/>
<line x1="434.5" x2="434.5" y1="659" y2="661" stroke="#c8c8c8"/>
<line x1="434.5" x2="434.5" y1="822" y2="824" stroke="#c8c8c8"/>
<line x1="434.5" x2="434.5" y1="836" y2="838" stroke="#d4d4d4"/>
<line x1="439.5" x2="439.5" y1="647" y2="648" stroke="#c8c8c8"/>
<line x1="439.5" x2="439.5" y1="660" y2="661" stroke="#c8c8c8"/>
<line x1="439.5" x2="439.5" y1="822" y2="823" stroke="#c8c8c8"/>
<line x1="444.5" x2="444.5" y1="647" y2="648" stroke="#c8c8c8"/>
<line x1="444.5" x2="444.5" y1="660" y2="661" stroke="#c8c8c8"/>
<line x1="444.5" x2="444.5" y1="822" y2="823" stroke="#c8c8c8"/>
<line x1="448.5" x2="448.5" y1="647" y2="648" stroke="#c8c8c8"/>
<line x1="448.5" x2="448.5" y1="660" y2="661" stroke="#c8c8c8"/>
<line x1="448.5" x2="448.5" y1="822" y2="823" stroke="#c8c8c8"/>
<line x1="453.5" x2="453.5" y1="647" y2="649" stroke="#c8c8c8"/>
<line x1="453.5" x2="453.5" y1="659" y2="661" stroke="#c8c8c8"/>
<line x1="453.5" x2="453.5" y1="822" y2="824" stroke="#c8c8c8"/>
<line x1="453.5" x2="453.5" y1="836" y2="838" stroke="#d4d4d4"/>
<line x1="457.5" x2="457.5" y1="647" y2="648" stroke="#c8c8c8"/>
<line x1="457.5" x2="457.5" y1="660" y2="661" stroke="#c8c8c8"/>
<line x1="457.5" x2="457.5" y1="822" y2="823" stroke="#c8c8c8"/>
<line x1="462.5" x2="462.5" y1="647" y2="648" stroke="#c8c8c8"/>
<line x1="462.5" x2="462.5" y1="660" y2="661" stroke="#c8c8c8"/>
<line x1="462.5" x2="462.5" y1="822" y2="823" stroke="#c8c8c8"/>
<line x1="467.5" x2="467.5" y1="647" y2="648" stroke="#c8c8c8"/>
<line x1="467.5" x2="467.5" y1="660" y2="661" stroke="#c8c8c8"/>
<line x1="467.5" x2="467.5" y1="822" y2="823" stroke="#c8c8c8"/>
<line x1="471.5" x2="471.5" y1="647" y2="648" stroke="#c8c8c8"/>
<line x1="471.5" x2="471.5" y1="660" y2="661" stroke="#c8c8c8"/>
<line x1="471.5" x2="471.5" y1="822" y2="823" stroke="#c8c8c8"/>
<line x1="476.5" x2="476.5" y1="647" y2="649" stroke="#c8c8c8"/>
<line x1="476.5" x2="476.5" y1="659" y2="661" stroke="#c8c8c8"/>
<line x1="476.5" x2="476.5" y1="822" y2="824" stroke="#c8c8c8"/>
<line x1="476.5" x2="476.5" y1="836" y2="838" stroke="#d4d4d4"/>
<line x1="481.5" x2="481.5" y1="647" y2="648" stroke="#c8c8c8"/>
<line x1="481.5" x2="481.5" y1="660" y2="661" stroke="#c8c8c8"/>
<line x1="481.5" x2="481.5" y1="822" y2="823" stroke="#c8c8c8"/>
<line x1="485.5" x2="485.5" y1="647" y2="648" stroke="#c8c8c8"/>
<line x1="485.5" x2="485.5" y1="660" y2="661" stroke="#c8c8c8"/>
<line x1="485.5" x2="485.5" y1="822" y2="823" stroke="#c8c8c8"/>
<line x1="490.5" x2="490.5" y1="647" y2="648" stroke="#c8c8c8"/>
<line x1="490.5" x2="490.5" y1="660" y2="661" stroke="#c8c8c8"/>
<line x1="490.5" x2="490.5" y1="822" y2="823" stroke="#c8c8c8"/>
<line x1="494.5" x2="494.5" y1="647" y2="649" stroke="#c8c8c8"/>
<line x1="494.5" x2="494.5" y1="659" y2="661" stroke="#c8c8c8"/>
<line x1="494.5" x2="494.5" y1="822" y2="824" stroke="#c8c8c8"/>
<line x1="494.5" x2="494.5" y1="836" y2="838" stroke="#d4d4d4"/>
<line x1="499.5" x2="499.5" y1="647" y2="648" stroke="#c8c8c8"/>
<line x1="499.5" x2="499.5" y1="660" y2="661" stroke="#c8c8c8"/>
<line x1="499.5" x2="499.5" y1="822" y2="823" stroke="#c8c8c8"/>
<line x1="504.5" x2="504.5" y1="647" y2="648" stroke="#c8c8c8"/>
<line x1="504.5" x2="504.5" y1="660" y2="661" stroke="#c8c8c8"/>
<line x1="504.5" x2="504.5" y1="822" y2="823" stroke="#c8c8c8"/>
<line x1="508.5" x2="508.5" y1="647" y2="648" stroke="#c8c8c8"/>
<line x1="508.5" x2="508.5" y1="660" y2="661" stroke="#c8c8c8"/>
<line x1="508.5" x2="508.5" y1="822" y2="823" stroke="#c8c8c8"/>
<line x1="513.5" x2="513.5" y1="647" y2="648" stroke="#c8c8c8"/>
<line x1="513.5" x2="513.5" y1="660" y2="661" stroke="#c8c8c8"/>
<line x1="513.5" x2="513.5" y1="822" y2="823" stroke="#c8c8c8"/>
<line x1="518.5" x2="518.5" y1="647" y2="649" stroke="#c8c8c8"/>
<line x1="518.5" x2="518.5" y1="659" y2="661" stroke="#c8c8c8"/>
<line x1="518.5" x2="518.5" y1="822" y2="824" stroke="#c8c8c8"/>
<line x1="518.5" x2="518.5" y1="836" y2="838" stroke="#d4d4d4"/>
<line x1="522.5" x2="522.5" y1="647" y2="648" stroke="#c8c8c8"/>
<line x1="522.5" x2="522.5" y1="660" y2="661" stroke="#c8c8c8"/>
<line x1="522.5" x2="522.5" y1="822" y2="823" stroke="#c8c8c8"/>
<line x1="527.5" x2="527.5" y1="647" y2="648" stroke="#c8c8c8"/>
<line x1="527.5" x2="527.5" y1="660" y2="661" stroke="#c8c8c8"/>
<line x1="527.5" x2="527.5" y1="822" y2="823" stroke="#c8c8c8"/>
<line x1="531.5" x2="531.5" y1="647" y2="648" stroke="#c8c8c8"/>
<line x1="531.5" x2="531.5" y1="660" y2="661" stroke="#c8c8c8"/>
<line x1="531.5" x2="531.5" y1="822" y2="823" stroke="#c8c8c8"/>
<line x1="536.5" x2="536.5" y1="647" y2="649" stroke="#c8c8c8"/>
<line x1="536.5" x2="536.5" y1="659" y2="661" stroke="#c8c8c8"/>
<line x1="536.5" x2="536.5" y1="822" y2="824" stroke="#c8c8c8"/>
<line x1="536.5" x2="536.5" y1="836" y2="838" stroke="#d4d4d4"/>
<line x1="541.5" x2="541.5" y1="647" y2="648" stroke="#c8c8c8"/>
<line x1="541.5" x2="541.5" y1="660" y2="661" stroke="#c8c8c8"/>
<line x1="541.5" x2="541.5" y1="822" y2="823" stroke="#c8c8c8"/>
<line x1="545.5" x2="545.5" y1="647" y2="648" stroke="#c8c8c8"/>
<line x1="545.5" x2="545.5" y1="660" y2="661" stroke="#c8c8c8"/>
<line x1="545.5" x2="545.5" y1="822" y2="823" stroke="#c8c8c8"/>
<line x1="550.5" x2="550.5" y1="647" y2="648" stroke="#c8c8c8"/>
<line x1="550.5" x2="550.5" y1="660" y2="661" stroke="#c8c8c8"/>
<line x1="550.5" x2="550.5" y1="822" y2="823" stroke="#c8c8c8"/>
<line x1="555.5" x2="555.5" y1="647" y2="649" stroke="#c8c8c8"/>
<line x1="555.5" x2="555.5" y1="659" y2="661" stroke="#c8c8c8"/>
<line x1="555.5" x2="555.5" y1="822" y2="824" stroke="#c8c8c8"/>
<line x1="555.5" x2="555.5" y1="836" y2="838" stroke="#d4d4d4"/>
<line x1="559.5" x2="559.5" y1="647" y2="648" stroke="#c8c8c8"/>
<line x1="559.5" x2="559.5" y1="660" y2="661" stroke="#c8c8c8"/>
<line x1="559.5" x2="559.5" y1="822" y2="823" stroke="#c8c8c8"/>
<line x1="564.5" x2="564.5" y1="647" y2="648" stroke="#c8c8c8"/>
<line x1="564.5" x2="564.5" y1="660" y2="661" stroke="#c8c8c8"/>
<line x1="564.5" x2="564.5" y1="822" y2="823" stroke="#c8c8c8"/>
<line x1="568.5" x2="568.5" y1="647" y2="648" stroke="#c8c8c8"/>
<line x1="568.5" x2="568.5" y1="660" y2="661" stroke="#c8c8c8"/>
<line x1="568.5" x2="568.5" y1="822" y2="823" stroke="#c8c8c8"/>
<line x1="573.5" x2="573.5" y1="647" y2="649" stroke="#c8c8c8"/>
<line x1="573.5" x2="573.5" y1="659" y2="661" stroke="#c8c8c8"/>
<line x1="573.5" x2="573.5" y1="822" y2="824" stroke="#c8c8c8"/>
<line x1="573.5" x2="573.5" y1="836" y2="838" stroke="#d4d4d4"/>
<line x1="578.5" x2="578.5" y1="647" y2="648" stroke="#c8c8c8"/>
<line x1="578.5" x2="578.5" y1="660" y2="661" stroke="#c8c8c8"/>
<line x1="578.5" x2="578.5" y1="822" y2="823" stroke="#c8c8c8"/>
<line x1="582.5" x2="582.5" y1="647" y2="648" stroke="#c8c8c8"/>
<line x1="582.5" x2="582.5" y1="660" y2="661" stroke="#c8c8c8"/>
<line x1="582.5" x2="582.5" y1="822" y2="823" stroke="#c8c8c8"/>
<line x1="587.5" x2="587.5" y1="647" y2="648" stroke="#c8c8c8"/>
<line x1="587.5" x2="587.5" y1="660" y2="661" stroke="#c8c8c8"/>
<line x1="587.5" x2="587.5" y1="822" y2="823" stroke="#c8c8c8"/>
<line x1="592.5" x2="592.5" y1="647" y2="648" stroke="#c8c8c8"/>
<line x1="592.5" x2="592.5" y1="660" y2="661" stroke="#c8c8c8"/>
<line x1="592.5" x2="592.5" y1="822" y2="823" stroke="#c8c8c8"/>
<line x1="596.5" x2="596.5" y1="647" y2="649" stroke="#c8c8c8"/>
<line x1="596.5" x2="596.5" y1="659" y2="661" stroke="#c8c8c8"/>
<line x1="596.5" x2="596.5" y1="822" y2="824" stroke="#c8c8c8"/>
<line x1="596.5" x2="596.5" y1="836" y2="838" stroke="#d4d4d4"/>
<line x1="601.5" x2="601.5" y1="647" y2="648" stroke="#c8c8c8"/>
<line x1="601.5" x2="601.5" y1="660" y2="661" stroke="#c8c8c8"/>
<line x1="601.5" x2="601.5" y1="822" y2="823" stroke="#c8c8c8"/>
<line x1="605.5" x2="605.5" y1="647" y2="648" stroke="#c8c8c8"/>
<line x1="605.5" x2="605.5" y1="660" y2="661" stroke="#c8c8c8"/>
<line x1="605.5" x2="605.5" y1="822" y2="823" stroke="#c8c8c8"/>
<line x1="610.5" x2="610.5" y1="647" y2="648" stroke="#c8c8c8"/>
<line x1="610.5" x2="610.5" y1="660" y2="661" stroke="#c8c8c8"/>
<line x1="610.5" x2="610.5" y1="822" y2="823" stroke="#c8c8c8"/>
<line x1="615.5" x2="615.5" y1="647" y2="649" stroke="#c8c8c8"/>
<line x1="615.5" x2="615.5" y1="659" y2="661" stroke="#c8c8c8"/>
<line x1="615.5" x2="615.5" y1="822" y2="824" stroke="#c8c8c8"/>
<line x1="615.5" x2="615.5" y1="836" y2="838" stroke="#d4d4d4"/>
<line x1="619.5" x2="619.5" y1="647" y2="648" stroke="#c8c8c8"/>
<line x1="619.5" x2="619.5" y1="660" y2="661" stroke="#c8c8c8"/>
<line x1="619.5" x2="619.5" y1="822" y2="823" stroke="#c8c8c8"/>
<line x1="627" x2="628" y1="182.5" y2="182.5" stroke="#c8c8c8"/>
<line x1="627" x2="628" y1="175.5" y2="175.5" stroke="#c8c8c8"/>
<line x1="627" x2="629" y1="167.5" y2="167.5" stroke="#c8c8c8"/>
<line x1="627" x2="628" y1="160.5" y2="160.5" stroke="#c8c8c8"/>
<line x1="627" x2="628" y1="153.5" y2="153.5" stroke="#c8c8c8"/>
<line x1="627" x2="628" y1="145.5" y2="145.5" stroke="#c8c8c8"/>
<line x1="627" x2="629" y1="138.5" y2="138.5" stroke="#c8c8c8"/>
<line x1="627" x2="628" y1="131.5" y2="131.5" stroke="#c8c8c8"/>
<line x1="627" x2="628" y1="123.5" y2="123.5" stroke="#c8c8c8"/>
<line x1="627" x2="628" y1="116.5" y2="116.5" stroke="#c8c8c8"/>
<line x1="627" x2="629" y1="109.5" y2="109.5" stroke="#c8c8c8"/>
<line x1="627" x2="628" y1="101.5" y2="101.5" stroke="#c8c8c8"/>
<line x1="627" x2="628" y1="94.5" y2="94.5" stroke="#c8c8c8"/>
<line x1="627" x2="628" y1="86.5" y2="86.5" stroke="#c8c8c8"/>
<line x1="627" x2="629" y1="79.5" y2="79.5" stroke="#c8c8c8"/>
<line x1="627" x2="628" y1="72.5" y2="72.5" stroke="#c8c8c8"/>
<line x1="627" x2="628" y1="64.5" y2="64.5" stroke="#c8c8c8"/>
<line x1="627" x2="628" y1="57.5" y2="57.5" stroke="#c8c8c8"/>
<line x1="627" x2="629" y1="50.5" y2="50.5" stroke="#c8c8c8"/>
<line x1="627" x2="628" y1="42.5" y2="42.5" stroke="#c8c8c8"/>
<line x1="627" x2="628" y1="35.5" y2="35.5" stroke="#c8c8c8"/>
<line x1="627" x2="628" y1="642.5" y2="642.5" stroke="#c8c8c8"/>
<line x1="627" x2="628" y1="636.5" y2="636.5" stroke="#c8c8c8"/>
<line x1="627" x2="628" y1="631.5" y2="631.5" stroke="#c8c8c8"/>
<line x1="627" x2="628" y1="626.5" y2="626.5" stroke="#c8c8c8"/>
<line x1="627" x2="629" y1="621.5" y2="621.5" stroke="#c8c8c8"/>
<line x1="627" x2="628" y1="615.5" y2="615.5" stroke="#c8c8c8"/>
<line x1="627" x2="628" y1="610.5" y2="610.5" stroke="#c8c8c8"/>
<line x1="627" x2="628" y1="605.5" y2="605.5" stroke="#c8c8c8"/>
<line x1="627" x2="628" y1="600.5" y2="600.5" stroke="#c8c8c8"/>
<line x1="627" x2="629" y1="594.5" y2="594.5" stroke="#c8c8c8"/>
<line x1="627" x2="628" y1="589.5" y2="589.5" stroke="#c8c8c8"/>
<line x1="627" x2="628" y1="584.5" y2="584.5" stroke="#c8c8c8"/>
<line x1="627" x2="628" y1="579.5" y2="579.5" stroke="#c8c8c8"/>
<line x1="627" x2="628" y1="573.5" y2="573.5" stroke="#c8c8c8"/>
<line x1="627" x2="629" y1="568.5" y2="568.5" stroke="#c8c8c8"/>
<line x1="627" x2="628" y1="563.5" y2="563.5" stroke="#c8c8c8"/>
<line x1="627" x2="628" y1="558.5" y2="558.5" stroke="#c8c8c8"/>
<line x1="627" x2="628" y1="552.5" y2="552.5" stroke="#c8c8c8"/>
<line x1="627" x2="628" y1="547.5" y2="547.5" stroke="#c8c8c8"/>
<line x1="627" x2="629" y1="542.5" y2="542.5" stroke="#c8c8c8"/>
<line x1="627" x2="628" y1="537.5" y2="537.5" stroke="#c8c8c8"/>
<line x1="627" x2="628" y1="531.5" y2="531.5" stroke="#c8c8c8"/>
<line x1="627" x2="628" y1="526.5" y2="526.5" stroke="#c8c8c8"/>
<line x1="627" x2="628" y1="521.5" y2="521.5" stroke="#c8c8c8"/>
<line x1="627" x2="629" y1="516.5" y2="516.5" stroke="#c8c8c8"/>
<line x1="627" x2="628" y1="510.5" y2="510.5" stroke="#c8c8c8"/>
<line x1="627" x2="628" y1="505.5" y2="505.5" stroke="#c8c8c8"/>
<line x1="627" x2="628" y1="500.5" y2="500.5" stroke="#c8c8c8"/>
<line x1="627" x2="628" y1="495.5" y2="495.5" stroke="#c8c8c8"/>
<line x1="627" x2="629" y1="489.5" y2="489.5" stroke="#c8c8c8"/>
<line x1="627" x2="628" y1="484.5" y2="484.5" stroke="#c8c8c8"/>
<line x1="627" x2="628" y1="479.5" y2="479.5" stroke="#c8c8c8"/>
<line x1="627" x2="628" y1="474.5" y2="474.5" stroke="#c8c8c8"/>
<line x1="627" x2="628" y1="468.5" y2="468.5" stroke="#c8c8c8"/>
<line x1="627" x2="629" y1="463.5" y2="463.5" stroke="#c8c8c8"/>
<line x1="627" x2="628" y1="458.5" y2="458.5" stroke="#c8c8c8"/>
<line x1="627" x2="628" y1="453.5" y2="453.5" stroke="#c8c8c8"/>
<line x1="627" x2="628" y1="447.5" y2="447.5" stroke="#c8c8c8"/>
<line x1="627" x2="628" y1="442.5" y2="442.5" stroke="#c8c8c8"/>
<line x1="627" x2="629" y1="437.5" y2="437.5" stroke="#c8c8c8"/>
<line x1="627" x2="628" y1="432.5" y2="432.5" stroke="#c8c8c8"/>
<line x1="627" x2="628" y1="426.5" y2="426.5" stroke="#c8c8c8"/>
<line x1="627" x2="628" y1="421.5" y2="421.5" stroke="#c8c8c8"/>
<line x1="627" x2="628" y1="416.5" y2="416.5" stroke="#c8c8c8"/>
<line x1="627" x2="629" y1="411.5" y2="411.5" stroke="#c8c8c8"/>
<line x1="627" x2="628" y1="405.5" y2="405.5" stroke="#c8c8c8"/>
<line x1="627" x2="628" y1="400.5" y2="400.5" stroke="#c8c8c8"/>
<line x1="627" x2="628" y1="395.5" y2="395.5" stroke="#c8c8c8"/>
<line x1="627" x2="628" y1="390.5" y2="390.5" stroke="#c8c8c8"/>
<line x1="627" x2="629" y1="384.5" y2="384.5" stroke="#c8c8c8"/>
<line x1="627" x2="628" y1="379.5" y2="379.5" stroke="#c8c8c8"/>
<line x1="627" x2="628" y1="374.5" y2="374.5" stroke="#c8c8c8"/>
<line x1="627" x2="628" y1="369.5" y2="369.5" stroke="#c8c8c8"/>
<line x1="627" x2="628" y1="363.5" y2="363.5" stroke="#c8c8c8"/>
<line x1="627" x2="629" y1="358.5" y2="358.5" stroke="#c8c8c8"/>
<line x1="627" x2="628" y1="353.5" y2="353.5" stroke="#c8c8c8"/>
<line x1="627" x2="628" y1="348.5" y2="348.5" stroke="#c8c8c8"/>
<line x1="627" x2="628" y1="343.5" y2="343.5" stroke="#c8c8c8"/>
<line x1="627" x2="628" y1="337.5" y2="337.5" stroke="#c8c8c8"/>
<line x1="627" x2="629" y1="332.5" y2="332.5" stroke="#c8c8c8"/>
<line x1="627" x2="628" y1="327.5" y2="327.5" stroke="#c8c8c8"/>
<line x1="627" x2="628" y1="322.5" y2="322.5" stroke="#c8c8c8"/>
<line x1="627" x2="628" y1="316.5" y2="316.5" stroke="#c8c8c8"/>
<line x1="627" x2="628" y1="311.5" y2="311.5" stroke="#c8c8c8"/>
<line x1="627" x2="629" y1="306.5" y2="306.5" stroke="#c8c8c8"/>
<line x1="627" x2="628" y1="301.5" y2="301.5" stroke="#c8c8c8"/>
<line x1="627" x2="628" y1="295.5" y2="295.5" stroke="#c8c8c8"/>
<line x1="627" x2="628" y1="290.5" y2="290.5" stroke="#c8c8c8"/>
<line x1="627" x2="628" y1="285.5" y2="285.5" stroke="#c8c8c8"/>
<line x1="627" x2="629" y1="280.5" y2="280.5" stroke="#c8c8c8"/>
<line x1="627" x2="628" y1="274.5" y2="274.5" stroke="#c8c8c8"/>
<line x1="627" x2="628" y1="269.5" y2="269.5" stroke="#c8c8c8"/>
<line x1="627" x2="628" y1="264.5" y2="264.5" stroke="#c8c8c8"/>
<line x1="627" x2="628" y1="259.5" y2="259.5" stroke="#c8c8c8"/>
<line x1="627" x2="629" y1="253.5" y2="253.5" stroke="#c8c8c8"/>
<line x1="627" x2="628" y1="248.5" y2="248.5" stroke="#c8c8c8"/>
<line x1="627" x2="628" y1="243.5" y2="243.5" stroke="#c8c8c8"/>
<line x1="627" x2="628" y1="238.5" y2="238.5" stroke="#c8c8c8"/>
<line x1="627" x2="628" y1="232.5" y2="232.5" stroke="#c8c8c8"/>
<line x1="627" x2="629" y1="227.5" y2="227.5" stroke="#c8c8c8"/>
<line x1="627" x2="628" y1="222.5" y2="222.5" stroke="#c8c8c8"/>
<line x1="627" x2="628" y1="217.5" y2="217.5" stroke="#c8c8c8"/>
<line x1="627" x2="628" y1="211.5" y2="211.5" stroke="#c8c8c8"/>
<line x1="627" x2="628" y1="206.5" y2="206.5" stroke="#c8c8c8"/>
<line x1="627" x2="629" y1="201.5" y2="201.5" stroke="#c8c8c8"/>
<line x1="627" x2="628" y1="196.5" y2="196.5" stroke="#c8c8c8"/>
<line x1="627" x2="628" y1="820.5" y2="820.5" stroke="#c8c8c8"/>
<line x1="627" x2="628" y1="816.5" y2="816.5" stroke="#c8c8c8"/>
<line x1="627" x2="628" y1="811.5" y2="811.5" stroke="#c8c8c8"/>
<line x1="627" x2="629" y1="807.5" y2="807.5" stroke="#c8c8c8"/>
<line x1="627" x2="628" y1="802.5" y2="802.5" stroke="#c8c8c8"/>
<line x1="627" x2="628" y1="798.5" y2="798.5" stroke="#c8c8c8"/>
<line x1="627" x2="628" y1="793.5" y2="793.5" stroke="#c8c8c8"/>
<line x1="627" x2="628" y1="789.5" y2="789.5" stroke="#c8c8c8"/>
<line x1="627" x2="629" y1="784.5" y2="784.5" stroke="#c8c8c8"/>
<line x1="627" x2="628" y1="780.5" y2="780.5" stroke="#c8c8c8"/>
<line x1="627" x2="628" y1="775.5" y2="775.5" stroke="#c8c8c8"/>
<line x1="627" x2="628" y1="771.5" y2="771.5" stroke="#c8c8c8"/>
<line x1="627" x2="628" y1="766.5" y2="766.5" stroke="#c8c8c8"/>
<line x1="627" x2="629" y1="762.5" y2="762.5" stroke="#c8c8c8"/>
<line x1="627" x2="628" y1="757.5" y2="757.5" stroke="#c8c8c8"/>
<line x1="627" x2="628" y1="753.5" y2="753.5" stroke="#c8c8c8"/>
<line x1="627" x2="628" y1="748.5" y2="748.5" stroke="#c8c8c8"/>
<line x1="627" x2="628" y1="744.5" y2="744.5" stroke="#c8c8c8"/>
<line x1="627" x2="629" y1="739.5" y2="739.5" stroke="#c8c8c8"/>
<line x1="627" x2="628" y1="734.5" y2="734.5" stroke="#c8c8c8"/>
<line x1="627" x2="628" y1="730.5" y2="730.5" stroke="#c8c8c8"/>
<line x1="627" x2="628" y1="725.5" y2="725.5" stroke="#c8c8c8"/>
<line x1="627" x2="628" y1="721.5" y2="721.5" stroke="#c8c8c8"/>
<line x1="627" x2="629" y1="716.5" y2="716.5" stroke="#c8c8c8"/>
<line x1="627" x2="628" y1="712.5" y2="712.5" stroke="#c8c8c8"/>
<line x1="627" x2="628" y1="707.5" y2="707.5" stroke="#c8c8c8"/>
<line x1="627" x2="628" y1="703.5" y2="703.5" stroke="#c8c8c8"/>
<line x1="627" x2="628" y1="698.5" y2="698.5" stroke="#c8c8c8"/>
<line x1="627" x2="629" y1="694.5" y2="694.5" stroke="#c8c8c8"/>
<line x1="627" x2="628" y1="689.5" y2="689.5" stroke="#c8c8c8"/>
<line x1="627" x2="628" y1="685.5" y2="685.5" stroke="#c8c8c8"/>
<line x1="627" x2="628" y1="680.5" y2="680.5" stroke="#c8c8c8"/>
<line x1="627" x2="628" y1="676.5" y2="676.5" stroke="#c8c8c8"/>
<line x1="627" x2="629" y1="671.5" y2="671.5" stroke="#c8c8c8"/>
<line x1="627" x2="628" y1="667.5" y2="667.5" stroke="#c8c8c8"/>
</g>
<g fill="#fff" shape-rendering="crispEdges"><rect x="17" y="30" width="94" height="12"/><rect x="17" y="191" width="176" height="10"/><rect x="17" y="201" width="67.5" height="12"/><rect x="17" y="213" width="78" height="11"/><rect x="17" y="662" width="229" height="12"/></g>
<text x="16.5" y="14.8" font-size="15.3" font-family="Liberation Sans, Arial, sans-serif" text-anchor="start" textLength="85" lengthAdjust="spacingAndGlyphs" font-weight="bold" stroke="#000" stroke-width=".3">$INDU:$GOLD</text>
<text x="105.7" y="14" font-size="11" font-family="Liberation Sans, Arial, sans-serif" text-anchor="start" textLength="270.5" lengthAdjust="spacingAndGlyphs" >(Dow Jones Industrial Average/Gold - Spot Price (EOD))</text>
<text x="381" y="14" font-size="9.7" font-family="Liberation Sans, Arial, sans-serif" text-anchor="start" textLength="49.3" lengthAdjust="spacingAndGlyphs" >INDX/INDX</text>
<text x="536.8" y="13.6" font-size="9" font-family="Liberation Sans, Arial, sans-serif" text-anchor="start" fill="#333344">©</text>
<text x="546.5" y="14.2" font-size="11.5" font-family="Liberation Sans, Arial, sans-serif" text-anchor="start" textLength="79.7" lengthAdjust="spacingAndGlyphs" fill="#333344">StockCharts.com</text>
<text x="16.6" y="26.6" font-size="9.4" font-family="Liberation Sans, Arial, sans-serif" text-anchor="start" textLength="54.4" lengthAdjust="spacingAndGlyphs" >15-Jul-2011</text>
<text x="231.9" y="26.5" font-size="11.3" font-family="Liberation Sans, Arial, sans-serif" text-anchor="start" textLength="28.3" lengthAdjust="spacingAndGlyphs" font-weight="bold">Open</text>
<text x="264.4" y="26.5" font-size="9.8" font-family="Liberation Sans, Arial, sans-serif" text-anchor="start" textLength="20.0" lengthAdjust="spacingAndGlyphs" >7.96</text>
<text x="290.7" y="26.5" font-size="11.3" font-family="Liberation Sans, Arial, sans-serif" text-anchor="start" textLength="23.3" lengthAdjust="spacingAndGlyphs" font-weight="bold">High</text>
<text x="318.1" y="26.5" font-size="9.8" font-family="Liberation Sans, Arial, sans-serif" text-anchor="start" textLength="19.7" lengthAdjust="spacingAndGlyphs" >7.96</text>
<text x="344.4" y="26.5" font-size="11.3" font-family="Liberation Sans, Arial, sans-serif" text-anchor="start" textLength="22.8" lengthAdjust="spacingAndGlyphs" font-weight="bold">Low</text>
<text x="372" y="26.5" font-size="9.8" font-family="Liberation Sans, Arial, sans-serif" text-anchor="start" textLength="20.4" lengthAdjust="spacingAndGlyphs" >7.80</text>
<text x="399.2" y="26.5" font-size="11.3" font-family="Liberation Sans, Arial, sans-serif" text-anchor="start" textLength="30.4" lengthAdjust="spacingAndGlyphs" font-weight="bold">Close</text>
<text x="434.5" y="26.5" font-size="9.8" font-family="Liberation Sans, Arial, sans-serif" text-anchor="start" textLength="19.6" lengthAdjust="spacingAndGlyphs" >7.85</text>
<text x="461.3" y="26.5" font-size="11.3" font-family="Liberation Sans, Arial, sans-serif" text-anchor="start" textLength="41.7" lengthAdjust="spacingAndGlyphs" font-weight="bold">Volume</text>
<text x="507.3" y="26.5" font-size="9.8" font-family="Liberation Sans, Arial, sans-serif" text-anchor="start" textLength="10.7" lengthAdjust="spacingAndGlyphs" >40</text>
<text x="524.9" y="26.5" font-size="11.3" font-family="Liberation Sans, Arial, sans-serif" text-anchor="start" textLength="21.1" lengthAdjust="spacingAndGlyphs" font-weight="bold">Chg</text>
<text x="550" y="26.5" font-size="9.8" font-family="Liberation Sans, Arial, sans-serif" text-anchor="start" textLength="23.2" lengthAdjust="spacingAndGlyphs" >-0.36</text>
<text x="576.9" y="26.5" font-size="9.8" font-family="Liberation Sans, Arial, sans-serif" text-anchor="start" textLength="39.1" lengthAdjust="spacingAndGlyphs" >(-4.41%)</text>
<path d="M618.8 22h7.6l-3.8 4.3z" fill="#99002e"/>
<path d="M19.5 40V37l3-5.5 2.5 4 2.5-3.5 .5 1.5V40z" fill="#7da07d"/><path d="M19.5 38.5l3-7 2.5 4.5 2.5-3.5v5" fill="none" stroke="#111" stroke-width="1.1" stroke-linejoin="miter"/>
<text x="31.8" y="40.0" font-size="9.4" font-family="DejaVu Sans, Verdana, sans-serif" text-anchor="start" textLength="78.6" lengthAdjust="spacing" stroke="#000" stroke-width="0.25" >RSI(14) 40.99</text>
<text x="629.6" y="53.949999999999996" font-size="9.3" font-family="DejaVu Sans, Verdana, sans-serif" text-anchor="start" stroke="#000" stroke-width="0.1" >90</text>
<text x="629.6" y="83.39999999999999" font-size="9.3" font-family="DejaVu Sans, Verdana, sans-serif" text-anchor="start" stroke="#000" stroke-width="0.1" >70</text>
<text x="629.6" y="112.85" font-size="9.3" font-family="DejaVu Sans, Verdana, sans-serif" text-anchor="start" stroke="#000" stroke-width="0.1" >50</text>
<text x="629.6" y="142.3" font-size="9.3" font-family="DejaVu Sans, Verdana, sans-serif" text-anchor="start" stroke="#000" stroke-width="0.1" >30</text>
<text x="629.6" y="171.75" font-size="9.3" font-family="DejaVu Sans, Verdana, sans-serif" text-anchor="start" stroke="#000" stroke-width="0.1" >10</text>
<g shape-rendering="crispEdges" fill="#000"><rect x="19" y="194" width="3" height="5"/><rect x="20" y="192" width="1" height="9"/><rect x="20" y="195" width="1" height="3" fill="#fff"/><rect x="22" y="196" width="3" height="4"/><rect x="23" y="195" width="1" height="6"/><rect x="25" y="194" width="3" height="5"/><rect x="26" y="192" width="1" height="9"/><rect x="26" y="195" width="1" height="3" fill="#fff"/></g>
<text x="31.6" y="200.4" font-size="9.4" font-family="DejaVu Sans, Verdana, sans-serif" text-anchor="start" textLength="160.4" lengthAdjust="spacing" stroke="#000" stroke-width="0.25" >$INDU:$GOLD (Weekly) 7.85</text>
<rect x="19" y="206" width="9" height="2" fill="#000080" shape-rendering="crispEdges"/>
<text x="29.4" y="211.2" font-size="9.2" font-family="DejaVu Sans, Verdana, sans-serif" text-anchor="start" textLength="53.4" lengthAdjust="spacingAndGlyphs" stroke="#000080" stroke-width="0.25" fill="#000080">MA(50) 8.36</text>
<rect x="19" y="217" width="9" height="2" fill="#ff0000" shape-rendering="crispEdges"/>
<text x="29.4" y="221.8" font-size="9.2" font-family="DejaVu Sans, Verdana, sans-serif" text-anchor="start" textLength="63.9" lengthAdjust="spacingAndGlyphs" stroke="#ff0000" stroke-width="0.25" fill="#ff0000">MA(200) 10.49</text>
<text x="650.8" y="624.55" font-size="9" font-family="DejaVu Sans, Verdana, sans-serif" text-anchor="end" stroke="#000" stroke-width="0.15" >7.0</text>
<text x="650.8" y="598.31" font-size="9" font-family="DejaVu Sans, Verdana, sans-serif" text-anchor="end" stroke="#000" stroke-width="0.15" >7.2</text>
<text x="650.8" y="572.0699999999999" font-size="9" font-family="DejaVu Sans, Verdana, sans-serif" text-anchor="end" stroke="#000" stroke-width="0.15" >7.4</text>
<text x="650.8" y="545.83" font-size="9" font-family="DejaVu Sans, Verdana, sans-serif" text-anchor="end" stroke="#000" stroke-width="0.15" >7.6</text>
<text x="650.8" y="519.59" font-size="9" font-family="DejaVu Sans, Verdana, sans-serif" text-anchor="end" stroke="#000" stroke-width="0.15" >7.8</text>
<text x="650.8" y="493.34999999999997" font-size="9" font-family="DejaVu Sans, Verdana, sans-serif" text-anchor="end" stroke="#000" stroke-width="0.15" >8.0</text>
<text x="650.8" y="467.11000000000007" font-size="9" font-family="DejaVu Sans, Verdana, sans-serif" text-anchor="end" stroke="#000" stroke-width="0.15" >8.2</text>
<text x="650.8" y="440.8699999999999" font-size="9" font-family="DejaVu Sans, Verdana, sans-serif" text-anchor="end" stroke="#000" stroke-width="0.15" >8.4</text>
<text x="650.8" y="414.63" font-size="9" font-family="DejaVu Sans, Verdana, sans-serif" text-anchor="end" stroke="#000" stroke-width="0.15" >8.6</text>
<text x="650.8" y="388.3899999999999" font-size="9" font-family="DejaVu Sans, Verdana, sans-serif" text-anchor="end" stroke="#000" stroke-width="0.15" >8.8</text>
<text x="650.8" y="362.15" font-size="9" font-family="DejaVu Sans, Verdana, sans-serif" text-anchor="end" stroke="#000" stroke-width="0.15" >9.0</text>
<text x="650.8" y="335.9100000000001" font-size="9" font-family="DejaVu Sans, Verdana, sans-serif" text-anchor="end" stroke="#000" stroke-width="0.15" >9.2</text>
<text x="650.8" y="309.66999999999996" font-size="9" font-family="DejaVu Sans, Verdana, sans-serif" text-anchor="end" stroke="#000" stroke-width="0.15" >9.4</text>
<text x="650.8" y="283.43" font-size="9" font-family="DejaVu Sans, Verdana, sans-serif" text-anchor="end" stroke="#000" stroke-width="0.15" >9.6</text>
<text x="650.8" y="257.1899999999999" font-size="9" font-family="DejaVu Sans, Verdana, sans-serif" text-anchor="end" stroke="#000" stroke-width="0.15" >9.8</text>
<text x="650.8" y="230.95000000000002" font-size="9" font-family="DejaVu Sans, Verdana, sans-serif" text-anchor="end" stroke="#000" stroke-width="0.15" >10.0</text>
<text x="650.8" y="204.71000000000012" font-size="9" font-family="DejaVu Sans, Verdana, sans-serif" text-anchor="end" stroke="#000" stroke-width="0.15" >10.2</text>
<text x="192.2" y="554.3" font-size="11.5" font-family="Liberation Sans, Arial, sans-serif" text-anchor="start" textLength="325" lengthAdjust="spacingAndGlyphs" font-weight="bold" fill="#0000f5">This ratio is itching to break down. After potential "dancing</text>
<text x="192.2" y="568.4" font-size="11.5" font-family="Liberation Sans, Arial, sans-serif" text-anchor="start" textLength="337.5" lengthAdjust="spacingAndGlyphs" font-weight="bold" fill="#0000f5">around" for another few weeks or so, I predict a new secular</text>
<text x="192.2" y="582.5" font-size="11.5" font-family="Liberation Sans, Arial, sans-serif" text-anchor="start" textLength="197" lengthAdjust="spacingAndGlyphs" font-weight="bold" fill="#0000f5">low in this ratio before 2011 is over.</text>
<text x="33.3" y="657.7" font-size="9" font-family="DejaVu Sans, Verdana, sans-serif" text-anchor="middle" >F</text>
<text x="51.3" y="657.7" font-size="9" font-family="DejaVu Sans, Verdana, sans-serif" text-anchor="middle" >M</text>
<text x="75.3" y="657.7" font-size="9" font-family="DejaVu Sans, Verdana, sans-serif" text-anchor="middle" >A</text>
<text x="93.3" y="657.7" font-size="9" font-family="DejaVu Sans, Verdana, sans-serif" text-anchor="middle" >M</text>
<text x="112.3" y="657.7" font-size="10.8" font-family="Liberation Sans, Arial, sans-serif" text-anchor="middle" >J</text>
<text x="135.3" y="657.7" font-size="10.8" font-family="Liberation Sans, Arial, sans-serif" text-anchor="middle" >J</text>
<text x="153.3" y="657.7" font-size="9" font-family="DejaVu Sans, Verdana, sans-serif" text-anchor="middle" >A</text>
<text x="176.3" y="657.7" font-size="9" font-family="DejaVu Sans, Verdana, sans-serif" text-anchor="middle" >S</text>
<text x="195.3" y="657.7" font-size="9" font-family="DejaVu Sans, Verdana, sans-serif" text-anchor="middle" >O</text>
<text x="213.3" y="657.7" font-size="9" font-family="DejaVu Sans, Verdana, sans-serif" text-anchor="middle" >N</text>
<text x="236.3" y="657.7" font-size="9" font-family="DejaVu Sans, Verdana, sans-serif" text-anchor="middle" >D</text>
<text x="254.0" y="658.0" font-size="11" font-family="Liberation Sans, Arial, sans-serif" text-anchor="middle" font-weight="bold">10</text>
<text x="273.3" y="657.7" font-size="9" font-family="DejaVu Sans, Verdana, sans-serif" text-anchor="middle" >F</text>
<text x="292.3" y="657.7" font-size="9" font-family="DejaVu Sans, Verdana, sans-serif" text-anchor="middle" >M</text>
<text x="315.3" y="657.7" font-size="9" font-family="DejaVu Sans, Verdana, sans-serif" text-anchor="middle" >A</text>
<text x="334.3" y="657.7" font-size="9" font-family="DejaVu Sans, Verdana, sans-serif" text-anchor="middle" >M</text>
<text x="352.3" y="657.7" font-size="10.8" font-family="Liberation Sans, Arial, sans-serif" text-anchor="middle" >J</text>
<text x="375.3" y="657.7" font-size="10.8" font-family="Liberation Sans, Arial, sans-serif" text-anchor="middle" >J</text>
<text x="394.3" y="657.7" font-size="9" font-family="DejaVu Sans, Verdana, sans-serif" text-anchor="middle" >A</text>
<text x="417.3" y="657.7" font-size="9" font-family="DejaVu Sans, Verdana, sans-serif" text-anchor="middle" >S</text>
<text x="435.3" y="657.7" font-size="9" font-family="DejaVu Sans, Verdana, sans-serif" text-anchor="middle" >O</text>
<text x="454.3" y="657.7" font-size="9" font-family="DejaVu Sans, Verdana, sans-serif" text-anchor="middle" >N</text>
<text x="477.3" y="657.7" font-size="9" font-family="DejaVu Sans, Verdana, sans-serif" text-anchor="middle" >D</text>
<text x="494.0" y="658.0" font-size="11" font-family="Liberation Sans, Arial, sans-serif" text-anchor="middle" font-weight="bold">11</text>
<text x="519.3" y="657.7" font-size="9" font-family="DejaVu Sans, Verdana, sans-serif" text-anchor="middle" >F</text>
<text x="537.3" y="657.7" font-size="9" font-family="DejaVu Sans, Verdana, sans-serif" text-anchor="middle" >M</text>
<text x="556.3" y="657.7" font-size="9" font-family="DejaVu Sans, Verdana, sans-serif" text-anchor="middle" >A</text>
<text x="574.3" y="657.7" font-size="9" font-family="DejaVu Sans, Verdana, sans-serif" text-anchor="middle" >M</text>
<text x="597.3" y="657.7" font-size="10.8" font-family="Liberation Sans, Arial, sans-serif" text-anchor="middle" >J</text>
<text x="616.3" y="657.7" font-size="10.8" font-family="Liberation Sans, Arial, sans-serif" text-anchor="middle" >J</text>
<text x="33.3" y="833" font-size="9" font-family="DejaVu Sans, Verdana, sans-serif" text-anchor="middle" >F</text>
<text x="51.3" y="833" font-size="9" font-family="DejaVu Sans, Verdana, sans-serif" text-anchor="middle" >M</text>
<text x="75.3" y="833" font-size="9" font-family="DejaVu Sans, Verdana, sans-serif" text-anchor="middle" >A</text>
<text x="93.3" y="833" font-size="9" font-family="DejaVu Sans, Verdana, sans-serif" text-anchor="middle" >M</text>
<text x="112.3" y="833" font-size="10.8" font-family="Liberation Sans, Arial, sans-serif" text-anchor="middle" >J</text>
<text x="135.3" y="833" font-size="10.8" font-family="Liberation Sans, Arial, sans-serif" text-anchor="middle" >J</text>
<text x="153.3" y="833" font-size="9" font-family="DejaVu Sans, Verdana, sans-serif" text-anchor="middle" >A</text>
<text x="176.3" y="833" font-size="9" font-family="DejaVu Sans, Verdana, sans-serif" text-anchor="middle" >S</text>
<text x="195.3" y="833" font-size="9" font-family="DejaVu Sans, Verdana, sans-serif" text-anchor="middle" >O</text>
<text x="213.3" y="833" font-size="9" font-family="DejaVu Sans, Verdana, sans-serif" text-anchor="middle" >N</text>
<text x="236.3" y="833" font-size="9" font-family="DejaVu Sans, Verdana, sans-serif" text-anchor="middle" >D</text>
<text x="254.0" y="833.3" font-size="11" font-family="Liberation Sans, Arial, sans-serif" text-anchor="middle" font-weight="bold">10</text>
<text x="273.3" y="833" font-size="9" font-family="DejaVu Sans, Verdana, sans-serif" text-anchor="middle" >F</text>
<text x="292.3" y="833" font-size="9" font-family="DejaVu Sans, Verdana, sans-serif" text-anchor="middle" >M</text>
<text x="315.3" y="833" font-size="9" font-family="DejaVu Sans, Verdana, sans-serif" text-anchor="middle" >A</text>
<text x="334.3" y="833" font-size="9" font-family="DejaVu Sans, Verdana, sans-serif" text-anchor="middle" >M</text>
<text x="352.3" y="833" font-size="10.8" font-family="Liberation Sans, Arial, sans-serif" text-anchor="middle" >J</text>
<text x="375.3" y="833" font-size="10.8" font-family="Liberation Sans, Arial, sans-serif" text-anchor="middle" >J</text>
<text x="394.3" y="833" font-size="9" font-family="DejaVu Sans, Verdana, sans-serif" text-anchor="middle" >A</text>
<text x="417.3" y="833" font-size="9" font-family="DejaVu Sans, Verdana, sans-serif" text-anchor="middle" >S</text>
<text x="435.3" y="833" font-size="9" font-family="DejaVu Sans, Verdana, sans-serif" text-anchor="middle" >O</text>
<text x="454.3" y="833" font-size="9" font-family="DejaVu Sans, Verdana, sans-serif" text-anchor="middle" >N</text>
<text x="477.3" y="833" font-size="9" font-family="DejaVu Sans, Verdana, sans-serif" text-anchor="middle" >D</text>
<text x="494.0" y="833.3" font-size="11" font-family="Liberation Sans, Arial, sans-serif" text-anchor="middle" font-weight="bold">11</text>
<text x="519.3" y="833" font-size="9" font-family="DejaVu Sans, Verdana, sans-serif" text-anchor="middle" >F</text>
<text x="537.3" y="833" font-size="9" font-family="DejaVu Sans, Verdana, sans-serif" text-anchor="middle" >M</text>
<text x="556.3" y="833" font-size="9" font-family="DejaVu Sans, Verdana, sans-serif" text-anchor="middle" >A</text>
<text x="574.3" y="833" font-size="9" font-family="DejaVu Sans, Verdana, sans-serif" text-anchor="middle" >M</text>
<text x="597.3" y="833" font-size="10.8" font-family="Liberation Sans, Arial, sans-serif" text-anchor="middle" >J</text>
<text x="616.3" y="833" font-size="10.8" font-family="Liberation Sans, Arial, sans-serif" text-anchor="middle" >J</text>
<rect x="19" y="667" width="8" height="2" fill="#000" shape-rendering="crispEdges"/>
<text x="31.3" y="672.1" font-size="9.4" font-family="DejaVu Sans, Verdana, sans-serif" textLength="214" lengthAdjust="spacing" stroke="#000" stroke-width=".25">MACD(12,26,9) -0.128<tspan fill="#f01414" stroke="#f01414">, -0.107</tspan><tspan fill="#3a8fc8" stroke="#3a8fc8">, -0.021</tspan></text>
<text x="653.3" y="810.575" font-size="9" font-family="DejaVu Sans, Verdana, sans-serif" text-anchor="end" stroke="#000" stroke-width="0.15" >-1.25</text>
<text x="653.3" y="788.0500000000001" font-size="9" font-family="DejaVu Sans, Verdana, sans-serif" text-anchor="end" stroke="#000" stroke-width="0.15" >-1.00</text>
<text x="653.3" y="765.5250000000001" font-size="9" font-family="DejaVu Sans, Verdana, sans-serif" text-anchor="end" stroke="#000" stroke-width="0.15" >-0.75</text>
<text x="653.3" y="743.0" font-size="9" font-family="DejaVu Sans, Verdana, sans-serif" text-anchor="end" stroke="#000" stroke-width="0.15" >-0.50</text>
<text x="653.3" y="720.475" font-size="9" font-family="DejaVu Sans, Verdana, sans-serif" text-anchor="end" stroke="#000" stroke-width="0.15" >-0.25</text>
<text x="653.3" y="697.95" font-size="9" font-family="DejaVu Sans, Verdana, sans-serif" text-anchor="end" stroke="#000" stroke-width="0.15" >0.00</text>
<text x="653.3" y="675.4250000000001" font-size="9" font-family="DejaVu Sans, Verdana, sans-serif" text-anchor="end" stroke="#000" stroke-width="0.15" >0.25</text>
</svg></body></html>
